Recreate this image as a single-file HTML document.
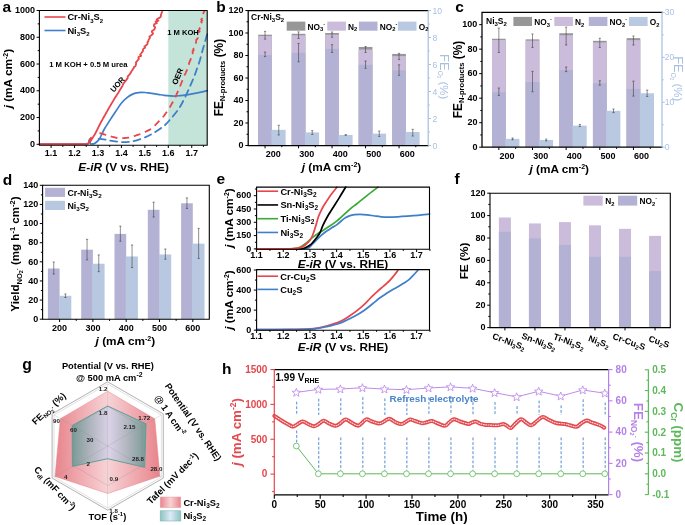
<!DOCTYPE html>
<html><head><meta charset="utf-8"><style>
html,body{margin:0;padding:0;background:#fff;}
svg{display:block;font-family:"Liberation Sans", sans-serif;filter:blur(0.35px);}
</style></head><body>
<svg width="685" height="525" viewBox="0 0 685 525" font-family='"Liberation Sans", sans-serif'>
<rect width="685" height="525" fill="#fff"/>
<rect x="168.3" y="10.5" width="38.9" height="134.7" fill="#c5e4d9" />
<path d="M39.4,144.1 C44.5,144.1 62.23,144.12 70,144.1 C77.77,144.08 82.95,144.12 86,144 C89.05,143.88 87.72,144.2 88.3,143.4 C88.88,142.6 89.17,139.17 89.5,139.2 C89.83,139.23 89.88,142.82 90.3,143.6 C90.72,144.38 91.38,143.88 92,143.9 C92.62,143.92 93.33,143.93 94,143.7 C94.67,143.47 95.07,143.33 96,142.5 C96.93,141.67 98.25,140.87 99.6,138.7 C100.95,136.53 102.4,132.55 104.1,129.5 C105.8,126.45 107.9,123.35 109.8,120.4 C111.7,117.45 113.58,114.65 115.5,111.8 C117.42,108.95 119.38,105.67 121.3,103.3 C123.22,100.93 125.1,99.13 127,97.6 C128.9,96.07 130.8,94.93 132.7,94.1 C134.6,93.27 136.35,92.87 138.4,92.6 C140.45,92.33 143.07,92.42 145,92.5 C146.93,92.58 147.85,92.8 150,93.1 C152.15,93.4 155.57,93.93 157.9,94.3 C160.23,94.67 161.98,95.03 164,95.3 C166.02,95.57 168,95.78 170,95.9 C172,96.02 173.53,96.12 176,96 C178.47,95.88 181.47,95.67 184.8,95.2 C188.13,94.73 192.27,93.95 196,93.2 C199.73,92.45 205.33,91.12 207.2,90.7" stroke="#3f7fca" stroke-width="1.7" fill="none" stroke-linejoin="round" stroke-linecap="round" />
<polyline points="39.4,144.2 40.62,144.2 41.85,144.2 43.07,144.2 44.3,144.2 45.52,144.2 46.74,144.2 47.97,144.2 49.19,144.2 50.42,144.2 51.64,144.2 52.86,144.2 54.09,144.2 55.31,144.2 56.54,144.2 57.76,144.2 58.98,144.2 60.21,144.2 61.43,144.2 62.66,144.2 63.88,144.2 65.1,144.2 66.33,144.2 67.55,144.2 68.78,144.2 70,144.2 71.23,144.19 72.46,144.18 73.69,144.18 74.92,144.17 76.15,144.16 77.38,144.15 78.62,144.15 79.85,144.14 81.08,144.13 82.31,144.12 83.54,144.12 84.77,144.11 86,144.1 88.2,143.6 88.75,142.3 89.3,141 89.87,139.93 90.43,138.87 91,137.8 90.73,139.13 90.47,140.47 90.2,141.8 90.85,140.65 91.5,139.5 92.2,138.42 92.9,137.34 93.6,136.26 94.3,135.18 95,134.1 95.56,132.98 96.12,131.86 96.68,130.74 97.24,129.62 97.8,128.5 98.38,127.34 98.96,126.18 99.54,125.02 100.12,123.86 100.7,122.7 101.36,121.52 102.02,120.34 102.68,119.16 103.34,117.98 104,116.8 104.61,115.71 105.22,114.62 105.83,113.53 106.44,112.44 107.06,111.36 107.67,110.27 108.28,109.18 108.89,108.09 109.5,107 110.19,105.85 110.88,104.7 111.56,103.55 112.25,102.4 112.94,101.25 113.62,100.1 114.31,98.95 115,97.8 115.7,96.72 116.4,95.64 117.1,94.56 117.8,93.48 118.5,92.4 119.18,91.22 119.87,90.03 120.51,88.92 121.48,87.62 122.07,86.55 122.71,85.3 123.14,84.18 123.77,83.02 124.74,81.98 125.62,80.83 126.4,79.91 127.12,78.88 127.81,77.7 127.62,76.66 128.46,75.44 129.66,74.48 130.07,73.59 130.99,72.36 131.25,71.52 132.2,70.46 132.73,69.21 133.65,68.42 133.75,67.28 135.39,66.14 135.87,64.66 136.19,63.89 135.91,62.48 136.84,61.46 137.68,60.29 138.9,58.89 138.32,57.79 139.07,56.59 141.21,55.85 140.24,54.5 141.27,53.26 141.95,52.3 143.03,51 142.86,49.84 143.33,48.83 145.13,47.67 144.37,46.48 145.57,45.69 147.04,44.48 147.68,43.58 147.42,42.27 148.15,41.36 148.55,40.22 149.23,38.76 149.99,37.94 149.35,36.58 150.75,35.77 152.59,34.22 153.03,33.39 151.86,31.97 151.97,31.04 153.95,29.88 154.82,28.48 155.17,27.17 153.85,25.98 154.11,24.36 156.97,23.04 155.48,21.86 158.47,20.7 156.33,20.17 157.15,19.03 159.43,17.87 160.87,16.48 160.92,14.67 161.36,13.88 161.73,12.2 162.86,11.35" stroke="#e8464b" stroke-width="1.8" fill="none" stroke-linejoin="round" />
<polyline points="99.4,133.2 100.53,133.47 101.67,133.73 102.8,134 103.93,134.27 105.07,134.53 106.2,134.8 107.28,135.18 108.36,135.56 109.44,135.94 110.52,136.32 111.6,136.7 112.6,136.92 113.6,137.15 114.6,137.38 115.6,137.6 116.6,137.82 117.6,138.05 118.6,138.28 119.6,138.5 120.64,138.4 121.68,138.3 122.72,138.2 123.76,138.1 124.8,138 125.84,137.9 126.88,137.8 127.92,137.7 128.96,137.6 130,137.5 130.99,137.17 131.98,136.84 132.98,136.51 133.97,136.18 134.96,135.85 135.95,135.52 136.95,135.18 137.94,134.85 138.93,134.52 139.92,134.19 140.92,133.86 141.91,133.53 142.9,133.2 143.81,132.73 144.72,132.26 145.63,131.79 146.54,131.32 147.45,130.85 148.36,130.38 149.27,129.91 150.18,129.44 151.09,128.97 152,128.5 152.7,127.76 153.4,127.03 154.1,126.29 154.8,125.56 155.5,124.82 156.2,124.09 156.9,123.35 157.6,122.62 158.3,121.88 159,121.15 159.7,120.41 160.4,119.68 161.1,118.94 161.8,118.21 162.5,117.47 163.2,116.74 163.9,116 164.51,115.1 165.12,114.2 165.73,113.3 166.34,112.4 166.95,111.5 167.56,110.6 168.17,109.7 168.78,108.8 169.39,107.9 170,107 170.53,106.06 171.07,105.11 171.6,104.17 172.13,103.22 172.67,102.28 173.2,101.33 173.73,100.39 174.27,99.44 174.8,98.5 175.2,97.58 175.6,96.65 176,95.73 176.4,94.81 176.8,93.88 177.2,92.96 177.6,92.04 178,91.12 178.4,90.19 178.8,89.27 179.2,88.35 179.6,87.42 180,86.5 180.4,85.5 180.8,84.5 181.2,83.5 181.6,82.5 182,81.5 182.4,80.5 182.8,79.5 183.2,78.5 183.6,77.5 184,76.5 184.41,75.57 184.78,74.64 185.36,73.71 185.78,72.79 185.97,71.86 186.58,70.93 186.98,70 187.42,69 187.45,68 188.09,67 188.58,66 188.74,65 188.99,64 189.03,63 189.65,62 189.88,61 190.47,60.03 190.73,59.06 190.93,58.09 190.88,57.12 191.58,56.15 191.86,55.18 191.72,54.21 192.71,53.24 192.77,52.27 192.5,51.3 193.75,50.26 193.26,49.21 193.84,48.17 194.67,47.12 194.91,46.08 195.23,45.03 195.73,43.99 195.87,42.94 196.05,41.9 196.15,40.84 196.28,39.79 197.47,38.73 197.82,37.68 197.81,36.62 198.39,35.57 198.11,34.51 198.25,33.46 198.72,32.4 199.73,31.42 198.61,30.44 199.59,29.45 199.38,28.47 200.5,27.49 200.01,26.51 200.2,25.53 200.54,24.55 201.02,23.56 201.68,22.58 201.12,21.6 202.36,20.59 201.25,19.57 201.85,18.56 201.8,17.54 202.12,16.53 203.77,15.51 203.97,14.5 203.3,13.33 203.77,12.17 204.72,11" stroke="#e8464b" stroke-width="1.8" fill="none" stroke-linejoin="round" stroke-dasharray="6.9 4.9" stroke-linecap="butt"/>
<path d="M98.6,138.8 C99.87,138.95 104.3,139.42 106.2,139.7 C108.1,139.98 108.15,140.18 110,140.5 C111.85,140.82 115.32,141.33 117.3,141.6 C119.28,141.87 119.45,142.12 121.9,142.1 C124.35,142.08 128.5,142.15 132,141.5 C135.5,140.85 139.57,139.45 142.9,138.2 C146.23,136.95 148.5,136.03 152,134 C155.5,131.97 160.73,128.58 163.9,126 C167.07,123.42 168.57,121.3 171,118.5 C173.43,115.7 176.25,112.53 178.5,109.2 C180.75,105.87 182.53,102.43 184.5,98.5 C186.47,94.57 188.72,89.18 190.3,85.6 C191.88,82.02 192.87,79.87 194,77 C195.13,74.13 196.1,71.23 197.1,68.4 C198.1,65.57 199.13,62.85 200,60 C200.87,57.15 201.6,53.88 202.3,51.3 C203,48.72 203.63,46.5 204.2,44.5 C204.77,42.5 205.2,41.02 205.7,39.3 C206.2,37.58 206.95,35.05 207.2,34.2" stroke="#3f7fca" stroke-width="1.8" fill="none" stroke-linejoin="round" stroke-linecap="round" stroke-dasharray="6.9 4.9" stroke-linecap="butt"/>
<path d="M39.4,10.5 L39.4,145.2 L207.2,145.2 L207.2,10.5 L39.4,10.5" stroke="#000" stroke-width="1.1" fill="none" stroke-linecap="square"/>
<line x1="39.4" y1="144.3" x2="36.6" y2="144.3" stroke="#000" stroke-width="1" />
<line x1="39.4" y1="117.54" x2="36.6" y2="117.54" stroke="#000" stroke-width="1" />
<line x1="39.4" y1="90.78" x2="36.6" y2="90.78" stroke="#000" stroke-width="1" />
<line x1="39.4" y1="64.02" x2="36.6" y2="64.02" stroke="#000" stroke-width="1" />
<line x1="39.4" y1="37.26" x2="36.6" y2="37.26" stroke="#000" stroke-width="1" />
<line x1="39.4" y1="10.5" x2="36.6" y2="10.5" stroke="#000" stroke-width="1" />
<line x1="39.4" y1="130.92" x2="37.7" y2="130.92" stroke="#000" stroke-width="1" />
<line x1="39.4" y1="104.16" x2="37.7" y2="104.16" stroke="#000" stroke-width="1" />
<line x1="39.4" y1="77.4" x2="37.7" y2="77.4" stroke="#000" stroke-width="1" />
<line x1="39.4" y1="50.64" x2="37.7" y2="50.64" stroke="#000" stroke-width="1" />
<line x1="39.4" y1="23.88" x2="37.7" y2="23.88" stroke="#000" stroke-width="1" />
<line x1="51.1" y1="145.2" x2="51.1" y2="148" stroke="#000" stroke-width="1" />
<line x1="74.54" y1="145.2" x2="74.54" y2="148" stroke="#000" stroke-width="1" />
<line x1="97.98" y1="145.2" x2="97.98" y2="148" stroke="#000" stroke-width="1" />
<line x1="121.42" y1="145.2" x2="121.42" y2="148" stroke="#000" stroke-width="1" />
<line x1="144.86" y1="145.2" x2="144.86" y2="148" stroke="#000" stroke-width="1" />
<line x1="168.3" y1="145.2" x2="168.3" y2="148" stroke="#000" stroke-width="1" />
<line x1="191.74" y1="145.2" x2="191.74" y2="148" stroke="#000" stroke-width="1" />
<line x1="62.82" y1="145.2" x2="62.82" y2="146.9" stroke="#000" stroke-width="1" />
<line x1="86.26" y1="145.2" x2="86.26" y2="146.9" stroke="#000" stroke-width="1" />
<line x1="109.7" y1="145.2" x2="109.7" y2="146.9" stroke="#000" stroke-width="1" />
<line x1="133.14" y1="145.2" x2="133.14" y2="146.9" stroke="#000" stroke-width="1" />
<line x1="156.58" y1="145.2" x2="156.58" y2="146.9" stroke="#000" stroke-width="1" />
<line x1="180.02" y1="145.2" x2="180.02" y2="146.9" stroke="#000" stroke-width="1" />
<line x1="203.46" y1="145.2" x2="203.46" y2="146.9" stroke="#000" stroke-width="1" />
<text x="35" y="147" font-size="9" text-anchor="end" fill="#000" font-weight="bold" >0</text>
<text x="35" y="120.24" font-size="9" text-anchor="end" fill="#000" font-weight="bold" >200</text>
<text x="35" y="93.48" font-size="9" text-anchor="end" fill="#000" font-weight="bold" >400</text>
<text x="35" y="66.72" font-size="9" text-anchor="end" fill="#000" font-weight="bold" >600</text>
<text x="35" y="39.96" font-size="9" text-anchor="end" fill="#000" font-weight="bold" >800</text>
<text x="35" y="13.2" font-size="9" text-anchor="end" fill="#000" font-weight="bold" >1000</text>
<text x="51.1" y="156" font-size="9" text-anchor="middle" fill="#000" font-weight="bold" >1.1</text>
<text x="74.54" y="156" font-size="9" text-anchor="middle" fill="#000" font-weight="bold" >1.2</text>
<text x="97.98" y="156" font-size="9" text-anchor="middle" fill="#000" font-weight="bold" >1.3</text>
<text x="121.42" y="156" font-size="9" text-anchor="middle" fill="#000" font-weight="bold" >1.4</text>
<text x="144.86" y="156" font-size="9" text-anchor="middle" fill="#000" font-weight="bold" >1.5</text>
<text x="168.3" y="156" font-size="9" text-anchor="middle" fill="#000" font-weight="bold" >1.6</text>
<text x="191.74" y="156" font-size="9" text-anchor="middle" fill="#000" font-weight="bold" >1.7</text>
<text x="123.6" y="170.8" font-size="11.8" text-anchor="middle" fill="#000" font-weight="bold" ><tspan font-style="italic">E</tspan>-<tspan font-style="italic">iR</tspan> (V vs. RHE)</text>
<text x="11.6" y="78.6" font-size="11.8" text-anchor="middle" fill="#000" font-weight="bold" transform="rotate(-90 11.6 78.6)" ><tspan font-style="italic">j</tspan> (mA cm<tspan font-size="7" dy="-4">-2</tspan><tspan dy="4" font-size="11.8">)</tspan></text>
<text x="2.6" y="12" font-size="15.5" text-anchor="start" fill="#000" font-weight="bold" >a</text>
<line x1="44.5" y1="17" x2="65.5" y2="17" stroke="#e8464b" stroke-width="1.6" />
<line x1="44.5" y1="30.5" x2="65.5" y2="30.5" stroke="#3f7fca" stroke-width="1.6" />
<text x="67.4" y="20.4" font-size="9.3" text-anchor="start" fill="#000" font-weight="bold" >Cr-Ni<tspan font-size="6" dy="2.2">3</tspan><tspan dy="-2.2">S</tspan><tspan font-size="6" dy="2.2">2</tspan></text>
<text x="67.4" y="33.9" font-size="9.3" text-anchor="start" fill="#000" font-weight="bold" >Ni<tspan font-size="6" dy="2.2">3</tspan><tspan dy="-2.2">S</tspan><tspan font-size="6" dy="2.2">2</tspan></text>
<text x="49.2" y="67.1" font-size="7.7" text-anchor="start" fill="#000" font-weight="bold" >1 M KOH + 0.5 M urea</text>
<text x="167.2" y="34.7" font-size="7.6" text-anchor="start" fill="#000" font-weight="bold" >1 M KOH</text>
<text x="119.5" y="86.3" font-size="7.8" text-anchor="middle" fill="#000" font-weight="bold" transform="rotate(-48 119.5 86.3)" >UOR</text>
<text x="180.2" y="77.4" font-size="7.9" text-anchor="middle" fill="#000" font-weight="bold" transform="rotate(-67 180.2 77.4)" >OER</text>
<rect x="258.2" y="34.69" width="13.7" height="110.81" fill="#979797" />
<rect x="258.2" y="36.04" width="13.7" height="109.46" fill="#cabcda" />
<rect x="258.2" y="54.94" width="13.7" height="90.56" fill="#b3b2d4" />
<rect x="271.4" y="129.84" width="14.2" height="15.66" fill="#b8c9e1" />
<line x1="265.05" y1="31.42" x2="265.05" y2="39.08" stroke="#333" stroke-width="0.55" />
<line x1="263.95" y1="31.42" x2="266.15" y2="31.42" stroke="#333" stroke-width="0.55" />
<line x1="263.95" y1="39.08" x2="266.15" y2="39.08" stroke="#333" stroke-width="0.55" />
<line x1="265.05" y1="52.12" x2="265.05" y2="56.62" stroke="#333" stroke-width="0.55" />
<line x1="263.95" y1="52.12" x2="266.15" y2="52.12" stroke="#333" stroke-width="0.55" />
<line x1="263.95" y1="56.62" x2="266.15" y2="56.62" stroke="#333" stroke-width="0.55" />
<line x1="278.75" y1="125.25" x2="278.75" y2="134.97" stroke="#333" stroke-width="0.55" />
<line x1="277.65" y1="125.25" x2="279.85" y2="125.25" stroke="#333" stroke-width="0.55" />
<line x1="277.65" y1="134.97" x2="279.85" y2="134.97" stroke="#333" stroke-width="0.55" />
<rect x="291.7" y="33.79" width="13.7" height="111.71" fill="#979797" />
<rect x="291.7" y="35.25" width="13.7" height="110.25" fill="#cabcda" />
<rect x="291.7" y="52.8" width="13.7" height="92.7" fill="#b3b2d4" />
<rect x="304.9" y="132.41" width="14.2" height="13.09" fill="#b8c9e1" />
<line x1="298.55" y1="31.88" x2="298.55" y2="38.4" stroke="#333" stroke-width="0.55" />
<line x1="297.45" y1="31.88" x2="299.65" y2="31.88" stroke="#333" stroke-width="0.55" />
<line x1="297.45" y1="38.4" x2="299.65" y2="38.4" stroke="#333" stroke-width="0.55" />
<line x1="298.55" y1="43.46" x2="298.55" y2="61.8" stroke="#333" stroke-width="0.55" />
<line x1="297.45" y1="43.46" x2="299.65" y2="43.46" stroke="#333" stroke-width="0.55" />
<line x1="297.45" y1="61.8" x2="299.65" y2="61.8" stroke="#333" stroke-width="0.55" />
<line x1="312.25" y1="130.65" x2="312.25" y2="134.43" stroke="#333" stroke-width="0.55" />
<line x1="311.15" y1="130.65" x2="313.35" y2="130.65" stroke="#333" stroke-width="0.55" />
<line x1="311.15" y1="134.43" x2="313.35" y2="134.43" stroke="#333" stroke-width="0.55" />
<rect x="325.2" y="33" width="13.7" height="112.5" fill="#979797" />
<rect x="325.2" y="34.69" width="13.7" height="110.81" fill="#cabcda" />
<rect x="325.2" y="48.97" width="13.7" height="96.53" fill="#b3b2d4" />
<rect x="338.4" y="134.97" width="14.2" height="10.53" fill="#b8c9e1" />
<line x1="332.05" y1="31.99" x2="332.05" y2="37.28" stroke="#333" stroke-width="0.55" />
<line x1="330.95" y1="31.99" x2="333.15" y2="31.99" stroke="#333" stroke-width="0.55" />
<line x1="330.95" y1="37.28" x2="333.15" y2="37.28" stroke="#333" stroke-width="0.55" />
<line x1="332.05" y1="44.7" x2="332.05" y2="52.46" stroke="#333" stroke-width="0.55" />
<line x1="330.95" y1="44.7" x2="333.15" y2="44.7" stroke="#333" stroke-width="0.55" />
<line x1="330.95" y1="52.46" x2="333.15" y2="52.46" stroke="#333" stroke-width="0.55" />
<line x1="345.75" y1="134.7" x2="345.75" y2="135.24" stroke="#333" stroke-width="0.55" />
<line x1="344.65" y1="134.7" x2="346.85" y2="134.7" stroke="#333" stroke-width="0.55" />
<line x1="344.65" y1="135.24" x2="346.85" y2="135.24" stroke="#333" stroke-width="0.55" />
<rect x="358.7" y="46.95" width="13.7" height="98.55" fill="#979797" />
<rect x="358.7" y="49.54" width="13.7" height="95.96" fill="#cabcda" />
<rect x="358.7" y="64.84" width="13.7" height="80.66" fill="#b3b2d4" />
<rect x="371.9" y="133.62" width="14.2" height="11.88" fill="#b8c9e1" />
<line x1="365.55" y1="46.5" x2="365.55" y2="52.46" stroke="#333" stroke-width="0.55" />
<line x1="364.45" y1="46.5" x2="366.65" y2="46.5" stroke="#333" stroke-width="0.55" />
<line x1="364.45" y1="52.46" x2="366.65" y2="52.46" stroke="#333" stroke-width="0.55" />
<line x1="365.55" y1="61.01" x2="365.55" y2="68.33" stroke="#333" stroke-width="0.55" />
<line x1="364.45" y1="61.01" x2="366.65" y2="61.01" stroke="#333" stroke-width="0.55" />
<line x1="364.45" y1="68.33" x2="366.65" y2="68.33" stroke="#333" stroke-width="0.55" />
<line x1="379.25" y1="131.06" x2="379.25" y2="136.46" stroke="#333" stroke-width="0.55" />
<line x1="378.15" y1="131.06" x2="380.35" y2="131.06" stroke="#333" stroke-width="0.55" />
<line x1="378.15" y1="136.46" x2="380.35" y2="136.46" stroke="#333" stroke-width="0.55" />
<rect x="392.2" y="53.92" width="13.7" height="91.58" fill="#979797" />
<rect x="392.2" y="56.06" width="13.7" height="89.44" fill="#cabcda" />
<rect x="392.2" y="70.35" width="13.7" height="75.15" fill="#b3b2d4" />
<rect x="405.4" y="132" width="14.2" height="13.5" fill="#b8c9e1" />
<line x1="399.05" y1="53.36" x2="399.05" y2="59.55" stroke="#333" stroke-width="0.55" />
<line x1="397.95" y1="53.36" x2="400.15" y2="53.36" stroke="#333" stroke-width="0.55" />
<line x1="397.95" y1="59.55" x2="400.15" y2="59.55" stroke="#333" stroke-width="0.55" />
<line x1="399.05" y1="64.84" x2="399.05" y2="75.3" stroke="#333" stroke-width="0.55" />
<line x1="397.95" y1="64.84" x2="400.15" y2="64.84" stroke="#333" stroke-width="0.55" />
<line x1="397.95" y1="75.3" x2="400.15" y2="75.3" stroke="#333" stroke-width="0.55" />
<line x1="412.75" y1="129.3" x2="412.75" y2="136.05" stroke="#333" stroke-width="0.55" />
<line x1="411.65" y1="129.3" x2="413.85" y2="129.3" stroke="#333" stroke-width="0.55" />
<line x1="411.65" y1="136.05" x2="413.85" y2="136.05" stroke="#333" stroke-width="0.55" />
<path d="M428.2,10.5 L248.2,10.5 L248.2,145.5 L428.2,145.5" stroke="#000" stroke-width="1.25" fill="none" stroke-linecap="square"/>
<line x1="428.2" y1="10.5" x2="428.2" y2="145.5" stroke="#a9c0e2" stroke-width="1.25" />
<line x1="248.2" y1="145.5" x2="245.4" y2="145.5" stroke="#000" stroke-width="1" />
<line x1="248.2" y1="123" x2="245.4" y2="123" stroke="#000" stroke-width="1" />
<line x1="248.2" y1="100.5" x2="245.4" y2="100.5" stroke="#000" stroke-width="1" />
<line x1="248.2" y1="78" x2="245.4" y2="78" stroke="#000" stroke-width="1" />
<line x1="248.2" y1="55.5" x2="245.4" y2="55.5" stroke="#000" stroke-width="1" />
<line x1="248.2" y1="33" x2="245.4" y2="33" stroke="#000" stroke-width="1" />
<line x1="248.2" y1="10.5" x2="245.4" y2="10.5" stroke="#000" stroke-width="1" />
<line x1="248.2" y1="134.25" x2="246.5" y2="134.25" stroke="#000" stroke-width="1" />
<line x1="248.2" y1="111.75" x2="246.5" y2="111.75" stroke="#000" stroke-width="1" />
<line x1="248.2" y1="89.25" x2="246.5" y2="89.25" stroke="#000" stroke-width="1" />
<line x1="248.2" y1="66.75" x2="246.5" y2="66.75" stroke="#000" stroke-width="1" />
<line x1="248.2" y1="44.25" x2="246.5" y2="44.25" stroke="#000" stroke-width="1" />
<line x1="248.2" y1="21.75" x2="246.5" y2="21.75" stroke="#000" stroke-width="1" />
<line x1="428.2" y1="145.5" x2="431" y2="145.5" stroke="#a9c0e2" stroke-width="1" />
<line x1="428.2" y1="118.5" x2="431" y2="118.5" stroke="#a9c0e2" stroke-width="1" />
<line x1="428.2" y1="91.5" x2="431" y2="91.5" stroke="#a9c0e2" stroke-width="1" />
<line x1="428.2" y1="64.5" x2="431" y2="64.5" stroke="#a9c0e2" stroke-width="1" />
<line x1="428.2" y1="37.5" x2="431" y2="37.5" stroke="#a9c0e2" stroke-width="1" />
<line x1="428.2" y1="10.5" x2="431" y2="10.5" stroke="#a9c0e2" stroke-width="1" />
<line x1="428.2" y1="132" x2="429.9" y2="132" stroke="#a9c0e2" stroke-width="1" />
<line x1="428.2" y1="105" x2="429.9" y2="105" stroke="#a9c0e2" stroke-width="1" />
<line x1="428.2" y1="78" x2="429.9" y2="78" stroke="#a9c0e2" stroke-width="1" />
<line x1="428.2" y1="51" x2="429.9" y2="51" stroke="#a9c0e2" stroke-width="1" />
<line x1="428.2" y1="24" x2="429.9" y2="24" stroke="#a9c0e2" stroke-width="1" />
<line x1="265.05" y1="145.5" x2="265.05" y2="148.3" stroke="#000" stroke-width="1" />
<line x1="281.8" y1="145.5" x2="281.8" y2="147.2" stroke="#000" stroke-width="1" />
<line x1="298.55" y1="145.5" x2="298.55" y2="148.3" stroke="#000" stroke-width="1" />
<line x1="315.3" y1="145.5" x2="315.3" y2="147.2" stroke="#000" stroke-width="1" />
<line x1="332.05" y1="145.5" x2="332.05" y2="148.3" stroke="#000" stroke-width="1" />
<line x1="348.8" y1="145.5" x2="348.8" y2="147.2" stroke="#000" stroke-width="1" />
<line x1="365.55" y1="145.5" x2="365.55" y2="148.3" stroke="#000" stroke-width="1" />
<line x1="382.3" y1="145.5" x2="382.3" y2="147.2" stroke="#000" stroke-width="1" />
<line x1="399.05" y1="145.5" x2="399.05" y2="148.3" stroke="#000" stroke-width="1" />
<line x1="415.8" y1="145.5" x2="415.8" y2="147.2" stroke="#000" stroke-width="1" />
<text x="243.6" y="148.2" font-size="9" text-anchor="end" fill="#000" font-weight="bold" >0</text>
<text x="243.6" y="125.7" font-size="9" text-anchor="end" fill="#000" font-weight="bold" >20</text>
<text x="243.6" y="103.2" font-size="9" text-anchor="end" fill="#000" font-weight="bold" >40</text>
<text x="243.6" y="80.7" font-size="9" text-anchor="end" fill="#000" font-weight="bold" >60</text>
<text x="243.6" y="58.2" font-size="9" text-anchor="end" fill="#000" font-weight="bold" >80</text>
<text x="243.6" y="35.7" font-size="9" text-anchor="end" fill="#000" font-weight="bold" >100</text>
<text x="243.6" y="13.2" font-size="9" text-anchor="end" fill="#000" font-weight="bold" >120</text>
<text x="432.6" y="148.5" font-size="8.6" text-anchor="start" fill="#a9c0e2" font-weight="normal" >0</text>
<text x="432.6" y="121.5" font-size="8.6" text-anchor="start" fill="#a9c0e2" font-weight="normal" >2</text>
<text x="432.6" y="94.5" font-size="8.6" text-anchor="start" fill="#a9c0e2" font-weight="normal" >4</text>
<text x="432.6" y="67.5" font-size="8.6" text-anchor="start" fill="#a9c0e2" font-weight="normal" >6</text>
<text x="432.6" y="40.5" font-size="8.6" text-anchor="start" fill="#a9c0e2" font-weight="normal" >8</text>
<text x="432.6" y="13.5" font-size="8.6" text-anchor="start" fill="#a9c0e2" font-weight="normal" >10</text>
<text x="273.2" y="156.9" font-size="9" text-anchor="middle" fill="#000" font-weight="bold" >200</text>
<text x="306.7" y="156.9" font-size="9" text-anchor="middle" fill="#000" font-weight="bold" >300</text>
<text x="340.2" y="156.9" font-size="9" text-anchor="middle" fill="#000" font-weight="bold" >400</text>
<text x="373.7" y="156.9" font-size="9" text-anchor="middle" fill="#000" font-weight="bold" >500</text>
<text x="407.2" y="156.9" font-size="9" text-anchor="middle" fill="#000" font-weight="bold" >600</text>
<text x="331.5" y="171.3" font-size="11.8" text-anchor="middle" fill="#000" font-weight="bold" ><tspan font-style="italic">j</tspan> (mA cm<tspan font-size="7" dy="-4">-2</tspan><tspan dy="4" font-size="11.8">)</tspan></text>
<text x="222.8" y="77.6" font-size="11.9" text-anchor="middle" fill="#000" font-weight="bold" transform="rotate(-90 222.8 77.6)" >FE<tspan font-size="7.6" dy="2.6">N-products</tspan><tspan dy="-2.6" font-size="11.9"> (%)</tspan></text>
<text x="440.3" y="76.7" font-size="13" text-anchor="middle" fill="#a9c0e2" font-weight="normal" transform="rotate(90 440.3 76.7)" >FE<tspan font-size="6.5" dy="2.5">O</tspan><tspan font-size="4.5" dy="1.2">2</tspan><tspan dy="-3.7" font-size="11.5"> (%)</tspan></text>
<text x="216.3" y="12.2" font-size="15.5" text-anchor="start" fill="#000" font-weight="bold" >b</text>
<text x="251" y="20.3" font-size="8.5" text-anchor="start" fill="#000" font-weight="bold" >Cr-Ni<tspan font-size="6" dy="2">3</tspan><tspan dy="-2">S</tspan><tspan font-size="6" dy="2">2</tspan></text>
<rect x="286.7" y="21.6" width="18.6" height="9.1" fill="#979797" />
<text x="307.5" y="29.6" font-size="8.3" text-anchor="start" fill="#000" font-weight="bold" >NO<tspan font-size="5.8" dy="1.8">3</tspan><tspan dy="-5.5" font-size="5.5">-</tspan></text>
<rect x="327.3" y="21.6" width="18.6" height="9.1" fill="#cabcda" />
<text x="348.1" y="29.6" font-size="8.3" text-anchor="start" fill="#000" font-weight="bold" >N<tspan font-size="5.8" dy="1.8">2</tspan></text>
<rect x="358.9" y="21.6" width="18.6" height="9.1" fill="#b3b2d4" />
<text x="379.7" y="29.6" font-size="8.3" text-anchor="start" fill="#000" font-weight="bold" >NO<tspan font-size="5.8" dy="1.8">2</tspan><tspan dy="-5.5" font-size="5.5">-</tspan></text>
<rect x="397.9" y="21.6" width="18.6" height="9.1" fill="#b8c9e1" />
<text x="418.7" y="29.6" font-size="8.3" text-anchor="start" fill="#000" font-weight="bold" >O<tspan font-size="5.8" dy="1.8">2</tspan></text>
<rect x="492" y="38.75" width="13.7" height="108.45" fill="#979797" />
<rect x="492" y="39.97" width="13.7" height="107.23" fill="#cabcda" />
<rect x="492" y="92.3" width="13.7" height="54.9" fill="#b3b2d4" />
<rect x="505.2" y="138.89" width="14.2" height="8.31" fill="#b8c9e1" />
<line x1="498.85" y1="28.09" x2="498.85" y2="52.47" stroke="#333" stroke-width="0.55" />
<line x1="497.75" y1="28.09" x2="499.95" y2="28.09" stroke="#333" stroke-width="0.55" />
<line x1="497.75" y1="52.47" x2="499.95" y2="52.47" stroke="#333" stroke-width="0.55" />
<line x1="498.85" y1="88.01" x2="498.85" y2="95.49" stroke="#333" stroke-width="0.55" />
<line x1="497.75" y1="88.01" x2="499.95" y2="88.01" stroke="#333" stroke-width="0.55" />
<line x1="497.75" y1="95.49" x2="499.95" y2="95.49" stroke="#333" stroke-width="0.55" />
<line x1="512.55" y1="137.99" x2="512.55" y2="139.79" stroke="#333" stroke-width="0.55" />
<line x1="511.45" y1="137.99" x2="513.65" y2="137.99" stroke="#333" stroke-width="0.55" />
<line x1="511.45" y1="139.79" x2="513.65" y2="139.79" stroke="#333" stroke-width="0.55" />
<rect x="525.65" y="39.36" width="13.7" height="107.84" fill="#979797" />
<rect x="525.65" y="40.59" width="13.7" height="106.61" fill="#cabcda" />
<rect x="525.65" y="82.01" width="13.7" height="65.19" fill="#b3b2d4" />
<rect x="538.85" y="140.01" width="14.2" height="7.19" fill="#b8c9e1" />
<line x1="532.5" y1="33.97" x2="532.5" y2="47.45" stroke="#333" stroke-width="0.55" />
<line x1="531.4" y1="33.97" x2="533.6" y2="33.97" stroke="#333" stroke-width="0.55" />
<line x1="531.4" y1="47.45" x2="533.6" y2="47.45" stroke="#333" stroke-width="0.55" />
<line x1="532.5" y1="71.34" x2="532.5" y2="91.81" stroke="#333" stroke-width="0.55" />
<line x1="531.4" y1="71.34" x2="533.6" y2="71.34" stroke="#333" stroke-width="0.55" />
<line x1="531.4" y1="91.81" x2="533.6" y2="91.81" stroke="#333" stroke-width="0.55" />
<line x1="546.2" y1="139.11" x2="546.2" y2="140.91" stroke="#333" stroke-width="0.55" />
<line x1="545.1" y1="139.11" x2="547.3" y2="139.11" stroke="#333" stroke-width="0.55" />
<line x1="545.1" y1="140.91" x2="547.3" y2="140.91" stroke="#333" stroke-width="0.55" />
<rect x="559.3" y="33.23" width="13.7" height="113.97" fill="#979797" />
<rect x="559.3" y="35.19" width="13.7" height="112.01" fill="#cabcda" />
<rect x="559.3" y="70" width="13.7" height="77.2" fill="#b3b2d4" />
<rect x="572.5" y="125.63" width="14.2" height="21.57" fill="#b8c9e1" />
<line x1="566.15" y1="27.11" x2="566.15" y2="45" stroke="#333" stroke-width="0.55" />
<line x1="565.05" y1="27.11" x2="567.25" y2="27.11" stroke="#333" stroke-width="0.55" />
<line x1="565.05" y1="45" x2="567.25" y2="45" stroke="#333" stroke-width="0.55" />
<line x1="566.15" y1="67.06" x2="566.15" y2="71.59" stroke="#333" stroke-width="0.55" />
<line x1="565.05" y1="67.06" x2="567.25" y2="67.06" stroke="#333" stroke-width="0.55" />
<line x1="565.05" y1="71.59" x2="567.25" y2="71.59" stroke="#333" stroke-width="0.55" />
<line x1="579.85" y1="124.51" x2="579.85" y2="126.53" stroke="#333" stroke-width="0.55" />
<line x1="578.75" y1="124.51" x2="580.95" y2="124.51" stroke="#333" stroke-width="0.55" />
<line x1="578.75" y1="126.53" x2="580.95" y2="126.53" stroke="#333" stroke-width="0.55" />
<rect x="592.95" y="40.83" width="13.7" height="106.37" fill="#979797" />
<rect x="592.95" y="42.42" width="13.7" height="104.78" fill="#cabcda" />
<rect x="592.95" y="83.11" width="13.7" height="64.09" fill="#b3b2d4" />
<rect x="606.15" y="110.8" width="14.2" height="36.4" fill="#b8c9e1" />
<line x1="599.8" y1="38.26" x2="599.8" y2="47.45" stroke="#333" stroke-width="0.55" />
<line x1="598.7" y1="38.26" x2="600.9" y2="38.26" stroke="#333" stroke-width="0.55" />
<line x1="598.7" y1="47.45" x2="600.9" y2="47.45" stroke="#333" stroke-width="0.55" />
<line x1="599.8" y1="80.78" x2="599.8" y2="85.19" stroke="#333" stroke-width="0.55" />
<line x1="598.7" y1="80.78" x2="600.9" y2="80.78" stroke="#333" stroke-width="0.55" />
<line x1="598.7" y1="85.19" x2="600.9" y2="85.19" stroke="#333" stroke-width="0.55" />
<line x1="613.5" y1="109.01" x2="613.5" y2="112.6" stroke="#333" stroke-width="0.55" />
<line x1="612.4" y1="109.01" x2="614.6" y2="109.01" stroke="#333" stroke-width="0.55" />
<line x1="612.4" y1="112.6" x2="614.6" y2="112.6" stroke="#333" stroke-width="0.55" />
<rect x="626.6" y="38.13" width="13.7" height="109.07" fill="#979797" />
<rect x="626.6" y="40.1" width="13.7" height="107.1" fill="#cabcda" />
<rect x="626.6" y="88.99" width="13.7" height="58.21" fill="#b3b2d4" />
<rect x="639.8" y="93.28" width="14.2" height="53.92" fill="#b8c9e1" />
<line x1="633.45" y1="36.05" x2="633.45" y2="45" stroke="#333" stroke-width="0.55" />
<line x1="632.35" y1="36.05" x2="634.55" y2="36.05" stroke="#333" stroke-width="0.55" />
<line x1="632.35" y1="45" x2="634.55" y2="45" stroke="#333" stroke-width="0.55" />
<line x1="633.45" y1="81.15" x2="633.45" y2="96.1" stroke="#333" stroke-width="0.55" />
<line x1="632.35" y1="81.15" x2="634.55" y2="81.15" stroke="#333" stroke-width="0.55" />
<line x1="632.35" y1="96.1" x2="634.55" y2="96.1" stroke="#333" stroke-width="0.55" />
<line x1="647.15" y1="90.13" x2="647.15" y2="96.43" stroke="#333" stroke-width="0.55" />
<line x1="646.05" y1="90.13" x2="648.25" y2="90.13" stroke="#333" stroke-width="0.55" />
<line x1="646.05" y1="96.43" x2="648.25" y2="96.43" stroke="#333" stroke-width="0.55" />
<path d="M662,12.4 L482,12.4 L482,147.2 L662,147.2" stroke="#000" stroke-width="1.25" fill="none" stroke-linecap="square"/>
<line x1="662" y1="12.4" x2="662" y2="147.2" stroke="#a9c0e2" stroke-width="1.25" />
<line x1="482" y1="147.2" x2="479.2" y2="147.2" stroke="#000" stroke-width="1" />
<line x1="482" y1="122.69" x2="479.2" y2="122.69" stroke="#000" stroke-width="1" />
<line x1="482" y1="98.18" x2="479.2" y2="98.18" stroke="#000" stroke-width="1" />
<line x1="482" y1="73.67" x2="479.2" y2="73.67" stroke="#000" stroke-width="1" />
<line x1="482" y1="49.16" x2="479.2" y2="49.16" stroke="#000" stroke-width="1" />
<line x1="482" y1="24.65" x2="479.2" y2="24.65" stroke="#000" stroke-width="1" />
<line x1="482" y1="134.95" x2="480.3" y2="134.95" stroke="#000" stroke-width="1" />
<line x1="482" y1="110.44" x2="480.3" y2="110.44" stroke="#000" stroke-width="1" />
<line x1="482" y1="85.93" x2="480.3" y2="85.93" stroke="#000" stroke-width="1" />
<line x1="482" y1="61.42" x2="480.3" y2="61.42" stroke="#000" stroke-width="1" />
<line x1="482" y1="36.91" x2="480.3" y2="36.91" stroke="#000" stroke-width="1" />
<line x1="662" y1="147.2" x2="664.8" y2="147.2" stroke="#a9c0e2" stroke-width="1" />
<line x1="662" y1="102.27" x2="664.8" y2="102.27" stroke="#a9c0e2" stroke-width="1" />
<line x1="662" y1="57.33" x2="664.8" y2="57.33" stroke="#a9c0e2" stroke-width="1" />
<line x1="662" y1="12.4" x2="664.8" y2="12.4" stroke="#a9c0e2" stroke-width="1" />
<line x1="662" y1="124.73" x2="663.7" y2="124.73" stroke="#a9c0e2" stroke-width="1" />
<line x1="662" y1="79.8" x2="663.7" y2="79.8" stroke="#a9c0e2" stroke-width="1" />
<line x1="662" y1="34.87" x2="663.7" y2="34.87" stroke="#a9c0e2" stroke-width="1" />
<line x1="498.85" y1="147.2" x2="498.85" y2="150" stroke="#000" stroke-width="1" />
<line x1="515.67" y1="147.2" x2="515.67" y2="148.9" stroke="#000" stroke-width="1" />
<line x1="532.5" y1="147.2" x2="532.5" y2="150" stroke="#000" stroke-width="1" />
<line x1="549.33" y1="147.2" x2="549.33" y2="148.9" stroke="#000" stroke-width="1" />
<line x1="566.15" y1="147.2" x2="566.15" y2="150" stroke="#000" stroke-width="1" />
<line x1="582.97" y1="147.2" x2="582.97" y2="148.9" stroke="#000" stroke-width="1" />
<line x1="599.8" y1="147.2" x2="599.8" y2="150" stroke="#000" stroke-width="1" />
<line x1="616.62" y1="147.2" x2="616.62" y2="148.9" stroke="#000" stroke-width="1" />
<line x1="633.45" y1="147.2" x2="633.45" y2="150" stroke="#000" stroke-width="1" />
<line x1="650.27" y1="147.2" x2="650.27" y2="148.9" stroke="#000" stroke-width="1" />
<text x="477.4" y="149.9" font-size="9" text-anchor="end" fill="#000" font-weight="bold" >0</text>
<text x="477.4" y="125.39" font-size="9" text-anchor="end" fill="#000" font-weight="bold" >20</text>
<text x="477.4" y="100.88" font-size="9" text-anchor="end" fill="#000" font-weight="bold" >40</text>
<text x="477.4" y="76.37" font-size="9" text-anchor="end" fill="#000" font-weight="bold" >60</text>
<text x="477.4" y="51.86" font-size="9" text-anchor="end" fill="#000" font-weight="bold" >80</text>
<text x="477.4" y="27.35" font-size="9" text-anchor="end" fill="#000" font-weight="bold" >100</text>
<text x="664.7" y="150.2" font-size="8.6" text-anchor="start" fill="#a9c0e2" font-weight="normal" >0</text>
<text x="664.7" y="105.27" font-size="8.6" text-anchor="start" fill="#a9c0e2" font-weight="normal" >10</text>
<text x="664.7" y="60.33" font-size="8.6" text-anchor="start" fill="#a9c0e2" font-weight="normal" >20</text>
<text x="664.7" y="15.4" font-size="8.6" text-anchor="start" fill="#a9c0e2" font-weight="normal" >30</text>
<text x="507" y="158.7" font-size="9" text-anchor="middle" fill="#000" font-weight="bold" >200</text>
<text x="540.65" y="158.7" font-size="9" text-anchor="middle" fill="#000" font-weight="bold" >300</text>
<text x="574.3" y="158.7" font-size="9" text-anchor="middle" fill="#000" font-weight="bold" >400</text>
<text x="607.95" y="158.7" font-size="9" text-anchor="middle" fill="#000" font-weight="bold" >500</text>
<text x="641.6" y="158.7" font-size="9" text-anchor="middle" fill="#000" font-weight="bold" >600</text>
<text x="559.2" y="172.5" font-size="11.8" text-anchor="middle" fill="#000" font-weight="bold" ><tspan font-style="italic">j</tspan> (mA cm<tspan font-size="7" dy="-4">-2</tspan><tspan dy="4" font-size="11.8">)</tspan></text>
<text x="461.6" y="79.5" font-size="11.9" text-anchor="middle" fill="#000" font-weight="bold" transform="rotate(-90 461.6 79.5)" >FE<tspan font-size="7.6" dy="2.6">N-products</tspan><tspan dy="-2.6" font-size="11.9"> (%)</tspan></text>
<text x="673.8" y="78.8" font-size="13" text-anchor="middle" fill="#a9c0e2" font-weight="normal" transform="rotate(90 673.8 78.8)" >FE<tspan font-size="6.5" dy="2.5">O</tspan><tspan font-size="4.5" dy="1.2">2</tspan><tspan dy="-3.7" font-size="11.5"> (%)</tspan></text>
<text x="455.2" y="12.2" font-size="15.5" text-anchor="start" fill="#000" font-weight="bold" >c</text>
<text x="486" y="24.3" font-size="8.5" text-anchor="start" fill="#000" font-weight="bold" >Ni<tspan font-size="6" dy="2">3</tspan><tspan dy="-2">S</tspan><tspan font-size="6" dy="2">2</tspan></text>
<rect x="513.4" y="16.9" width="18.6" height="9.1" fill="#979797" />
<text x="534.2" y="24.9" font-size="8.3" text-anchor="start" fill="#000" font-weight="bold" >NO<tspan font-size="5.8" dy="1.8">3</tspan><tspan dy="-5.5" font-size="5.5">-</tspan></text>
<rect x="554.3" y="16.9" width="18.6" height="9.1" fill="#cabcda" />
<text x="575.1" y="24.9" font-size="8.3" text-anchor="start" fill="#000" font-weight="bold" >N<tspan font-size="5.8" dy="1.8">2</tspan></text>
<rect x="588.8" y="16.9" width="18.6" height="9.1" fill="#b3b2d4" />
<text x="609.6" y="24.9" font-size="8.3" text-anchor="start" fill="#000" font-weight="bold" >NO<tspan font-size="5.8" dy="1.8">2</tspan><tspan dy="-5.5" font-size="5.5">-</tspan></text>
<rect x="629" y="16.9" width="18.6" height="9.1" fill="#b8c9e1" />
<text x="649.8" y="24.9" font-size="8.3" text-anchor="start" fill="#000" font-weight="bold" >O<tspan font-size="5.8" dy="1.8">2</tspan></text>
<rect x="47.9" y="268.51" width="11.7" height="50.69" fill="#b3b2d4" />
<rect x="59.1" y="295.77" width="12.2" height="23.43" fill="#b8c8e1" />
<line x1="53.75" y1="262.01" x2="53.75" y2="274.06" stroke="#333" stroke-width="0.55" />
<line x1="52.65" y1="262.01" x2="54.85" y2="262.01" stroke="#333" stroke-width="0.55" />
<line x1="52.65" y1="274.06" x2="54.85" y2="274.06" stroke="#333" stroke-width="0.55" />
<line x1="65.45" y1="293.95" x2="65.45" y2="297.49" stroke="#333" stroke-width="0.55" />
<line x1="64.35" y1="293.95" x2="66.55" y2="293.95" stroke="#333" stroke-width="0.55" />
<line x1="64.35" y1="297.49" x2="66.55" y2="297.49" stroke="#333" stroke-width="0.55" />
<rect x="81.2" y="249.67" width="11.7" height="69.53" fill="#b3b2d4" />
<rect x="92.4" y="263.73" width="12.2" height="55.47" fill="#b8c8e1" />
<line x1="87.05" y1="239.34" x2="87.05" y2="259.9" stroke="#333" stroke-width="0.55" />
<line x1="85.95" y1="239.34" x2="88.15" y2="239.34" stroke="#333" stroke-width="0.55" />
<line x1="85.95" y1="259.9" x2="88.15" y2="259.9" stroke="#333" stroke-width="0.55" />
<line x1="98.75" y1="254.93" x2="98.75" y2="271.67" stroke="#333" stroke-width="0.55" />
<line x1="97.65" y1="254.93" x2="99.85" y2="254.93" stroke="#333" stroke-width="0.55" />
<line x1="97.65" y1="271.67" x2="99.85" y2="271.67" stroke="#333" stroke-width="0.55" />
<rect x="114.5" y="233.89" width="11.7" height="85.31" fill="#b3b2d4" />
<rect x="125.7" y="256.46" width="12.2" height="62.74" fill="#b8c8e1" />
<line x1="120.35" y1="226.14" x2="120.35" y2="241.25" stroke="#333" stroke-width="0.55" />
<line x1="119.25" y1="226.14" x2="121.45" y2="226.14" stroke="#333" stroke-width="0.55" />
<line x1="119.25" y1="241.25" x2="121.45" y2="241.25" stroke="#333" stroke-width="0.55" />
<line x1="132.05" y1="244.98" x2="132.05" y2="267.55" stroke="#333" stroke-width="0.55" />
<line x1="130.95" y1="244.98" x2="133.15" y2="244.98" stroke="#333" stroke-width="0.55" />
<line x1="130.95" y1="267.55" x2="133.15" y2="267.55" stroke="#333" stroke-width="0.55" />
<rect x="147.8" y="209.78" width="11.7" height="109.42" fill="#b3b2d4" />
<rect x="159" y="254.45" width="12.2" height="64.75" fill="#b8c8e1" />
<line x1="153.65" y1="202.23" x2="153.65" y2="217.05" stroke="#333" stroke-width="0.55" />
<line x1="152.55" y1="202.23" x2="154.75" y2="202.23" stroke="#333" stroke-width="0.55" />
<line x1="152.55" y1="217.05" x2="154.75" y2="217.05" stroke="#333" stroke-width="0.55" />
<line x1="165.35" y1="249" x2="165.35" y2="259.23" stroke="#333" stroke-width="0.55" />
<line x1="164.25" y1="249" x2="166.45" y2="249" stroke="#333" stroke-width="0.55" />
<line x1="164.25" y1="259.23" x2="166.45" y2="259.23" stroke="#333" stroke-width="0.55" />
<rect x="181.1" y="203.28" width="11.7" height="115.92" fill="#b3b2d4" />
<rect x="192.3" y="243.64" width="12.2" height="75.56" fill="#b8c8e1" />
<line x1="186.95" y1="197.92" x2="186.95" y2="208.45" stroke="#333" stroke-width="0.55" />
<line x1="185.85" y1="197.92" x2="188.05" y2="197.92" stroke="#333" stroke-width="0.55" />
<line x1="185.85" y1="208.45" x2="188.05" y2="208.45" stroke="#333" stroke-width="0.55" />
<line x1="198.65" y1="228.43" x2="198.65" y2="258.47" stroke="#333" stroke-width="0.55" />
<line x1="197.55" y1="228.43" x2="199.75" y2="228.43" stroke="#333" stroke-width="0.55" />
<line x1="197.55" y1="258.47" x2="199.75" y2="258.47" stroke="#333" stroke-width="0.55" />
<path d="M42.6,185.3 L42.6,319.2 L209.3,319.2 L209.3,185.3 L42.6,185.3" stroke="#000" stroke-width="1.1" fill="none" stroke-linecap="square"/>
<line x1="42.6" y1="319.2" x2="39.8" y2="319.2" stroke="#000" stroke-width="1" />
<line x1="42.6" y1="300.07" x2="39.8" y2="300.07" stroke="#000" stroke-width="1" />
<line x1="42.6" y1="280.94" x2="39.8" y2="280.94" stroke="#000" stroke-width="1" />
<line x1="42.6" y1="261.81" x2="39.8" y2="261.81" stroke="#000" stroke-width="1" />
<line x1="42.6" y1="242.69" x2="39.8" y2="242.69" stroke="#000" stroke-width="1" />
<line x1="42.6" y1="223.56" x2="39.8" y2="223.56" stroke="#000" stroke-width="1" />
<line x1="42.6" y1="204.43" x2="39.8" y2="204.43" stroke="#000" stroke-width="1" />
<line x1="42.6" y1="185.3" x2="39.8" y2="185.3" stroke="#000" stroke-width="1" />
<line x1="42.6" y1="309.64" x2="40.9" y2="309.64" stroke="#000" stroke-width="1" />
<line x1="42.6" y1="290.51" x2="40.9" y2="290.51" stroke="#000" stroke-width="1" />
<line x1="42.6" y1="271.38" x2="40.9" y2="271.38" stroke="#000" stroke-width="1" />
<line x1="42.6" y1="252.25" x2="40.9" y2="252.25" stroke="#000" stroke-width="1" />
<line x1="42.6" y1="233.12" x2="40.9" y2="233.12" stroke="#000" stroke-width="1" />
<line x1="42.6" y1="213.99" x2="40.9" y2="213.99" stroke="#000" stroke-width="1" />
<line x1="42.6" y1="194.86" x2="40.9" y2="194.86" stroke="#000" stroke-width="1" />
<line x1="59.6" y1="319.2" x2="59.6" y2="322" stroke="#000" stroke-width="1" />
<line x1="76.25" y1="319.2" x2="76.25" y2="320.9" stroke="#000" stroke-width="1" />
<text x="59.6" y="331.3" font-size="9" text-anchor="middle" fill="#000" font-weight="bold" >200</text>
<line x1="92.9" y1="319.2" x2="92.9" y2="322" stroke="#000" stroke-width="1" />
<line x1="109.55" y1="319.2" x2="109.55" y2="320.9" stroke="#000" stroke-width="1" />
<text x="92.9" y="331.3" font-size="9" text-anchor="middle" fill="#000" font-weight="bold" >300</text>
<line x1="126.2" y1="319.2" x2="126.2" y2="322" stroke="#000" stroke-width="1" />
<line x1="142.85" y1="319.2" x2="142.85" y2="320.9" stroke="#000" stroke-width="1" />
<text x="126.2" y="331.3" font-size="9" text-anchor="middle" fill="#000" font-weight="bold" >400</text>
<line x1="159.5" y1="319.2" x2="159.5" y2="322" stroke="#000" stroke-width="1" />
<line x1="176.15" y1="319.2" x2="176.15" y2="320.9" stroke="#000" stroke-width="1" />
<text x="159.5" y="331.3" font-size="9" text-anchor="middle" fill="#000" font-weight="bold" >500</text>
<line x1="192.8" y1="319.2" x2="192.8" y2="322" stroke="#000" stroke-width="1" />
<text x="192.8" y="331.3" font-size="9" text-anchor="middle" fill="#000" font-weight="bold" >600</text>
<text x="38.2" y="321.9" font-size="9" text-anchor="end" fill="#000" font-weight="bold" >0</text>
<text x="38.2" y="302.77" font-size="9" text-anchor="end" fill="#000" font-weight="bold" >20</text>
<text x="38.2" y="283.64" font-size="9" text-anchor="end" fill="#000" font-weight="bold" >40</text>
<text x="38.2" y="264.51" font-size="9" text-anchor="end" fill="#000" font-weight="bold" >60</text>
<text x="38.2" y="245.39" font-size="9" text-anchor="end" fill="#000" font-weight="bold" >80</text>
<text x="38.2" y="226.26" font-size="9" text-anchor="end" fill="#000" font-weight="bold" >100</text>
<text x="38.2" y="207.13" font-size="9" text-anchor="end" fill="#000" font-weight="bold" >120</text>
<text x="38.2" y="188" font-size="9" text-anchor="end" fill="#000" font-weight="bold" >140</text>
<text x="125.4" y="344.8" font-size="11.8" text-anchor="middle" fill="#000" font-weight="bold" ><tspan font-style="italic">j</tspan> (mA cm<tspan font-size="7" dy="-4">-2</tspan><tspan dy="4" font-size="11.8">)</tspan></text>
<text x="19" y="254" font-size="11.6" text-anchor="middle" fill="#000" font-weight="bold" transform="rotate(-90 19 254)" >Yield<tspan font-size="7.5" dy="2.5">NO</tspan><tspan font-size="5.4" dy="1.2">2</tspan><tspan dy="-3.7" font-size="5.4">-</tspan><tspan dy="0" font-size="11.6">  (mg h</tspan><tspan font-size="7.5" dy="-4">-1</tspan><tspan dy="4" font-size="11.6"> cm</tspan><tspan font-size="7.5" dy="-4">-2</tspan><tspan dy="4" font-size="11.6">)</tspan></text>
<text x="2.8" y="184.7" font-size="15.5" text-anchor="start" fill="#000" font-weight="bold" >d</text>
<rect x="45.1" y="187.8" width="19.9" height="9.1" fill="#b3b2d4" />
<rect x="45.1" y="200.8" width="19.9" height="9.2" fill="#b8c8e1" />
<text x="67.4" y="195.5" font-size="8.8" text-anchor="start" fill="#000" font-weight="bold" >Cr-Ni<tspan font-size="6.2" dy="2">3</tspan><tspan dy="-2">S</tspan><tspan font-size="6.2" dy="2">2</tspan></text>
<text x="67.4" y="208.6" font-size="8.8" text-anchor="start" fill="#000" font-weight="bold" >Ni<tspan font-size="6.2" dy="2">3</tspan><tspan dy="-2">S</tspan><tspan font-size="6.2" dy="2">2</tspan></text>
<path d="M256.6,248.9 C262.17,248.9 282.77,248.92 290,248.9 C297.23,248.88 297.5,248.85 300,248.8 C302.5,248.75 303.57,248.77 305,248.6 C306.43,248.43 307.52,248.4 308.6,247.8 C309.68,247.2 310.48,245.98 311.5,245 C312.52,244.02 313.13,243.45 314.7,241.9 C316.27,240.35 318.83,237.55 320.9,235.7 C322.97,233.85 325.25,232.15 327.1,230.8 C328.95,229.45 330.35,228.63 332,227.6 C333.65,226.57 334.93,226.13 337,224.6 C339.07,223.07 342.23,219.9 344.4,218.4 C346.57,216.9 348.23,216.23 350,215.6 C351.77,214.97 353.32,214.82 355,214.6 C356.68,214.38 358.1,214.27 360.1,214.3 C362.1,214.33 364.57,214.52 367,214.8 C369.43,215.08 372.37,215.67 374.7,216 C377.03,216.33 378.57,216.62 381,216.8 C383.43,216.98 386.47,217.1 389.3,217.1 C392.13,217.1 394.95,216.95 398,216.8 C401.05,216.65 404.27,216.43 407.6,216.2 C410.93,215.97 414.35,215.73 418,215.4 C421.65,215.07 427.58,214.4 429.5,214.2" stroke="#3f7fca" stroke-width="1.75" fill="none" stroke-linejoin="round" stroke-linecap="round" />
<path d="M256.6,248.9 C261.33,248.9 278.93,248.95 285,248.9 C291.07,248.85 290.52,248.87 293,248.6 C295.48,248.33 297.72,248.22 299.9,247.3 C302.08,246.38 304.03,244.72 306.1,243.1 C308.17,241.48 310.03,239.35 312.3,237.6 C314.57,235.85 317.23,234.25 319.7,232.6 C322.17,230.95 324.22,229.65 327.1,227.7 C329.98,225.75 333.18,224 337,220.9 C340.82,217.8 346.75,211.92 350,209.1 C353.25,206.28 353.67,206.25 356.5,204 C359.33,201.75 363.42,198.42 367,195.6 C370.58,192.78 376.17,188.52 378,187.1" stroke="#3aaa35" stroke-width="1.75" fill="none" stroke-linejoin="round" stroke-linecap="round" />
<path d="M256.6,248.9 C262.5,248.9 284.77,248.93 292,248.9 C299.23,248.87 297.87,248.85 300,248.7 C302.13,248.55 302.97,248.72 304.8,248 C306.63,247.28 308.93,246.23 311,244.4 C313.07,242.57 315.65,239.07 317.2,237 C318.75,234.93 319.37,233.9 320.3,232 C321.23,230.1 321.67,228.07 322.8,225.6 C323.93,223.13 325.35,220.25 327.1,217.2 C328.85,214.15 331.23,210.6 333.3,207.3 C335.37,204 337.43,200.77 339.5,197.4 C341.57,194.03 344.67,188.82 345.7,187.1" stroke="#000" stroke-width="1.75" fill="none" stroke-linejoin="round" stroke-linecap="round" />
<path d="M256.6,248.9 C261.83,248.9 281.43,248.97 288,248.9 C294.57,248.83 293.6,248.83 296,248.5 C298.4,248.17 300.3,248 302.4,246.9 C304.5,245.8 306.95,243.72 308.6,241.9 C310.25,240.08 311.17,238.47 312.3,236 C313.43,233.53 314.37,230.35 315.4,227.1 C316.43,223.85 317.37,219.6 318.5,216.5 C319.63,213.4 320.97,210.87 322.2,208.5 C323.43,206.13 324.47,204.57 325.9,202.3 C327.33,200.03 328.95,197.43 330.8,194.9 C332.65,192.37 335.97,188.4 337,187.1" stroke="#e8464b" stroke-width="1.75" fill="none" stroke-linejoin="round" stroke-linecap="round" />
<path d="M256.6,187.1 L256.6,249.2 L429.5,249.2 L429.5,187.1 L256.6,187.1" stroke="#000" stroke-width="1.1" fill="none" stroke-linecap="square"/>
<line x1="256.6" y1="248.9" x2="253.8" y2="248.9" stroke="#000" stroke-width="1" />
<line x1="256.6" y1="235.59" x2="253.8" y2="235.59" stroke="#000" stroke-width="1" />
<line x1="256.6" y1="222.29" x2="253.8" y2="222.29" stroke="#000" stroke-width="1" />
<line x1="256.6" y1="208.99" x2="253.8" y2="208.99" stroke="#000" stroke-width="1" />
<line x1="256.6" y1="195.68" x2="253.8" y2="195.68" stroke="#000" stroke-width="1" />
<line x1="256.6" y1="242.25" x2="254.9" y2="242.25" stroke="#000" stroke-width="1" />
<line x1="256.6" y1="228.94" x2="254.9" y2="228.94" stroke="#000" stroke-width="1" />
<line x1="256.6" y1="215.64" x2="254.9" y2="215.64" stroke="#000" stroke-width="1" />
<line x1="256.6" y1="202.33" x2="254.9" y2="202.33" stroke="#000" stroke-width="1" />
<line x1="256.6" y1="189.03" x2="254.9" y2="189.03" stroke="#000" stroke-width="1" />
<line x1="256.6" y1="249.2" x2="256.6" y2="252" stroke="#000" stroke-width="1" />
<line x1="283.27" y1="249.2" x2="283.27" y2="252" stroke="#000" stroke-width="1" />
<line x1="309.94" y1="249.2" x2="309.94" y2="252" stroke="#000" stroke-width="1" />
<line x1="336.61" y1="249.2" x2="336.61" y2="252" stroke="#000" stroke-width="1" />
<line x1="363.28" y1="249.2" x2="363.28" y2="252" stroke="#000" stroke-width="1" />
<line x1="389.95" y1="249.2" x2="389.95" y2="252" stroke="#000" stroke-width="1" />
<line x1="416.62" y1="249.2" x2="416.62" y2="252" stroke="#000" stroke-width="1" />
<line x1="269.94" y1="249.2" x2="269.94" y2="250.9" stroke="#000" stroke-width="1" />
<line x1="296.61" y1="249.2" x2="296.61" y2="250.9" stroke="#000" stroke-width="1" />
<line x1="323.28" y1="249.2" x2="323.28" y2="250.9" stroke="#000" stroke-width="1" />
<line x1="349.94" y1="249.2" x2="349.94" y2="250.9" stroke="#000" stroke-width="1" />
<line x1="376.62" y1="249.2" x2="376.62" y2="250.9" stroke="#000" stroke-width="1" />
<line x1="403.28" y1="249.2" x2="403.28" y2="250.9" stroke="#000" stroke-width="1" />
<line x1="429.95" y1="249.2" x2="429.95" y2="250.9" stroke="#000" stroke-width="1" />
<text x="251.2" y="251.6" font-size="9" text-anchor="end" fill="#000" font-weight="bold" >0</text>
<text x="251.2" y="238.29" font-size="9" text-anchor="end" fill="#000" font-weight="bold" >150</text>
<text x="251.2" y="224.99" font-size="9" text-anchor="end" fill="#000" font-weight="bold" >300</text>
<text x="251.2" y="211.69" font-size="9" text-anchor="end" fill="#000" font-weight="bold" >450</text>
<text x="251.2" y="198.38" font-size="9" text-anchor="end" fill="#000" font-weight="bold" >600</text>
<text x="256.6" y="257.6" font-size="9" text-anchor="middle" fill="#000" font-weight="bold" >1.1</text>
<text x="283.27" y="257.6" font-size="9" text-anchor="middle" fill="#000" font-weight="bold" >1.2</text>
<text x="309.94" y="257.6" font-size="9" text-anchor="middle" fill="#000" font-weight="bold" >1.3</text>
<text x="336.61" y="257.6" font-size="9" text-anchor="middle" fill="#000" font-weight="bold" >1.4</text>
<text x="363.28" y="257.6" font-size="9" text-anchor="middle" fill="#000" font-weight="bold" >1.5</text>
<text x="389.95" y="257.6" font-size="9" text-anchor="middle" fill="#000" font-weight="bold" >1.6</text>
<text x="416.62" y="257.6" font-size="9" text-anchor="middle" fill="#000" font-weight="bold" >1.7</text>
<text x="343" y="267.6" font-size="11.8" text-anchor="middle" fill="#000" font-weight="bold" ><tspan font-style="italic">E</tspan>-<tspan font-style="italic">iR</tspan> (V vs. RHE)</text>
<line x1="257.4" y1="191.2" x2="278.1" y2="191.2" stroke="#e8464b" stroke-width="1.6" />
<text x="280.4" y="194.6" font-size="9.3" text-anchor="start" fill="#000" font-weight="bold" >Cr-Ni<tspan font-size="6.5" dy="2">3</tspan><tspan dy="-2">S</tspan><tspan font-size="6.5" dy="2">2</tspan></text>
<line x1="257.4" y1="204.95" x2="278.1" y2="204.95" stroke="#000" stroke-width="1.6" />
<text x="280.4" y="208.35" font-size="9.3" text-anchor="start" fill="#000" font-weight="bold" >Sn-Ni<tspan font-size="6.5" dy="2">3</tspan><tspan dy="-2">S</tspan><tspan font-size="6.5" dy="2">2</tspan></text>
<line x1="257.4" y1="218.7" x2="278.1" y2="218.7" stroke="#3aaa35" stroke-width="1.6" />
<text x="280.4" y="222.1" font-size="9.3" text-anchor="start" fill="#000" font-weight="bold" >Ti-Ni<tspan font-size="6.5" dy="2">3</tspan><tspan dy="-2">S</tspan><tspan font-size="6.5" dy="2">2</tspan></text>
<line x1="257.4" y1="232.45" x2="278.1" y2="232.45" stroke="#3f7fca" stroke-width="1.6" />
<text x="280.4" y="235.85" font-size="9.3" text-anchor="start" fill="#000" font-weight="bold" >Ni<tspan font-size="6.5" dy="2">3</tspan><tspan dy="-2">S</tspan><tspan font-size="6.5" dy="2">2</tspan></text>
<path d="M256.6,329.6 C262.17,329.57 281.1,329.52 290,329.4 C298.9,329.28 305,329.2 310,328.9 C315,328.6 317,328.15 320,327.6 C323,327.05 325.08,326.43 328,325.6 C330.92,324.77 334.83,323.62 337.5,322.6 C340.17,321.58 341.95,320.63 344,319.5 C346.05,318.37 347.63,317.28 349.8,315.8 C351.97,314.32 354.67,312.42 357,310.6 C359.33,308.78 361.97,306.57 363.8,304.9 C365.63,303.23 366.53,302.1 368,300.6 C369.47,299.1 371.1,297.37 372.6,295.9 C374.1,294.43 375.55,293.12 377,291.8 C378.45,290.48 379.8,289.3 381.3,288 C382.8,286.7 384.53,285.32 386,284 C387.47,282.68 388.77,281.52 390.1,280.1 C391.43,278.68 392.68,277.13 394,275.5 C395.32,273.87 397.33,271.17 398,270.3" stroke="#e8464b" stroke-width="1.75" fill="none" stroke-linejoin="round" stroke-linecap="round" />
<path d="M256.6,329.7 C262.17,329.67 281.1,329.62 290,329.5 C298.9,329.38 305,329.25 310,329 C315,328.75 317,328.45 320,328 C323,327.55 325.08,326.97 328,326.3 C330.92,325.63 334.5,324.97 337.5,324 C340.5,323.03 343.08,321.82 346,320.5 C348.92,319.18 352,317.77 355,316.1 C358,314.43 361.07,312.55 364,310.5 C366.93,308.45 369.93,305.92 372.6,303.8 C375.27,301.68 377.67,299.55 380,297.8 C382.33,296.05 384.6,294.6 386.6,293.3 C388.6,292 389.97,291.17 392,290 C394.03,288.83 396.8,287.47 398.8,286.3 C400.8,285.13 402.25,284.17 404,283 C405.75,281.83 407.63,280.72 409.3,279.3 C410.97,277.88 412.58,276 414,274.5 C415.42,273 417.17,271 417.8,270.3" stroke="#3f7fca" stroke-width="1.75" fill="none" stroke-linejoin="round" stroke-linecap="round" />
<path d="M256.6,269.6 L256.6,330.2 L429.5,330.2 L429.5,269.6 L256.6,269.6" stroke="#000" stroke-width="1.1" fill="none" stroke-linecap="square"/>
<line x1="256.6" y1="330.2" x2="253.8" y2="330.2" stroke="#000" stroke-width="1" />
<line x1="256.6" y1="310.14" x2="253.8" y2="310.14" stroke="#000" stroke-width="1" />
<line x1="256.6" y1="290.08" x2="253.8" y2="290.08" stroke="#000" stroke-width="1" />
<line x1="256.6" y1="270.02" x2="253.8" y2="270.02" stroke="#000" stroke-width="1" />
<line x1="256.6" y1="320.17" x2="254.9" y2="320.17" stroke="#000" stroke-width="1" />
<line x1="256.6" y1="300.11" x2="254.9" y2="300.11" stroke="#000" stroke-width="1" />
<line x1="256.6" y1="280.05" x2="254.9" y2="280.05" stroke="#000" stroke-width="1" />
<line x1="256.6" y1="330.2" x2="256.6" y2="333" stroke="#000" stroke-width="1" />
<line x1="283.27" y1="330.2" x2="283.27" y2="333" stroke="#000" stroke-width="1" />
<line x1="309.94" y1="330.2" x2="309.94" y2="333" stroke="#000" stroke-width="1" />
<line x1="336.61" y1="330.2" x2="336.61" y2="333" stroke="#000" stroke-width="1" />
<line x1="363.28" y1="330.2" x2="363.28" y2="333" stroke="#000" stroke-width="1" />
<line x1="389.95" y1="330.2" x2="389.95" y2="333" stroke="#000" stroke-width="1" />
<line x1="416.62" y1="330.2" x2="416.62" y2="333" stroke="#000" stroke-width="1" />
<line x1="269.94" y1="330.2" x2="269.94" y2="331.9" stroke="#000" stroke-width="1" />
<line x1="296.61" y1="330.2" x2="296.61" y2="331.9" stroke="#000" stroke-width="1" />
<line x1="323.28" y1="330.2" x2="323.28" y2="331.9" stroke="#000" stroke-width="1" />
<line x1="349.94" y1="330.2" x2="349.94" y2="331.9" stroke="#000" stroke-width="1" />
<line x1="376.62" y1="330.2" x2="376.62" y2="331.9" stroke="#000" stroke-width="1" />
<line x1="403.28" y1="330.2" x2="403.28" y2="331.9" stroke="#000" stroke-width="1" />
<line x1="429.95" y1="330.2" x2="429.95" y2="331.9" stroke="#000" stroke-width="1" />
<text x="251.2" y="332.9" font-size="9" text-anchor="end" fill="#000" font-weight="bold" >0</text>
<text x="251.2" y="312.84" font-size="9" text-anchor="end" fill="#000" font-weight="bold" >200</text>
<text x="251.2" y="292.78" font-size="9" text-anchor="end" fill="#000" font-weight="bold" >400</text>
<text x="251.2" y="272.72" font-size="9" text-anchor="end" fill="#000" font-weight="bold" >600</text>
<text x="256.6" y="339.1" font-size="9" text-anchor="middle" fill="#000" font-weight="bold" >1.1</text>
<text x="283.27" y="339.1" font-size="9" text-anchor="middle" fill="#000" font-weight="bold" >1.2</text>
<text x="309.94" y="339.1" font-size="9" text-anchor="middle" fill="#000" font-weight="bold" >1.3</text>
<text x="336.61" y="339.1" font-size="9" text-anchor="middle" fill="#000" font-weight="bold" >1.4</text>
<text x="363.28" y="339.1" font-size="9" text-anchor="middle" fill="#000" font-weight="bold" >1.5</text>
<text x="389.95" y="339.1" font-size="9" text-anchor="middle" fill="#000" font-weight="bold" >1.6</text>
<text x="416.62" y="339.1" font-size="9" text-anchor="middle" fill="#000" font-weight="bold" >1.7</text>
<text x="343" y="350.8" font-size="11.8" text-anchor="middle" fill="#000" font-weight="bold" ><tspan font-style="italic">E</tspan>-<tspan font-style="italic">iR</tspan> (V vs. RHE)</text>
<line x1="257.4" y1="276.2" x2="278.1" y2="276.2" stroke="#e8464b" stroke-width="1.6" />
<line x1="257.4" y1="289.4" x2="278.1" y2="289.4" stroke="#3f7fca" stroke-width="1.6" />
<text x="280.2" y="279.6" font-size="9.3" text-anchor="start" fill="#000" font-weight="bold" >Cr-Cu<tspan font-size="6.5" dy="2">2</tspan><tspan dy="-2">S</tspan></text>
<text x="280.2" y="292.8" font-size="9.3" text-anchor="start" fill="#000" font-weight="bold" >Cu<tspan font-size="6.5" dy="2">2</tspan><tspan dy="-2">S</tspan></text>
<text x="232.5" y="218" font-size="11.8" text-anchor="middle" fill="#000" font-weight="bold" transform="rotate(-90 232.5 218)" ><tspan font-style="italic">j</tspan> (mA cm<tspan font-size="7" dy="-4">-2</tspan><tspan dy="4" font-size="11.8">)</tspan></text>
<text x="232.5" y="300" font-size="11.8" text-anchor="middle" fill="#000" font-weight="bold" transform="rotate(-90 232.5 300)" ><tspan font-style="italic">j</tspan> (mA cm<tspan font-size="7" dy="-4">-2</tspan><tspan dy="4" font-size="11.8">)</tspan></text>
<text x="216.6" y="184.3" font-size="15.5" text-anchor="start" fill="#000" font-weight="bold" >e</text>
<rect x="498.9" y="217.5" width="12" height="110.1" fill="#cabcda" />
<rect x="498.9" y="231.84" width="12" height="95.76" fill="#b3b2d4" />
<rect x="528.93" y="223.44" width="12" height="104.16" fill="#cabcda" />
<rect x="528.93" y="238.34" width="12" height="89.26" fill="#b3b2d4" />
<rect x="558.96" y="222.1" width="12" height="105.5" fill="#cabcda" />
<rect x="558.96" y="244.94" width="12" height="82.66" fill="#b3b2d4" />
<rect x="588.99" y="225.34" width="12" height="102.26" fill="#cabcda" />
<rect x="588.99" y="256.82" width="12" height="70.78" fill="#b3b2d4" />
<rect x="619.02" y="228.82" width="12" height="98.78" fill="#cabcda" />
<rect x="619.02" y="256.82" width="12" height="70.78" fill="#b3b2d4" />
<rect x="649.05" y="235.87" width="12" height="91.73" fill="#cabcda" />
<rect x="649.05" y="271.04" width="12" height="56.56" fill="#b3b2d4" />
<path d="M490,193.2 L490,327.6 L670.3,327.6 L670.3,193.2 L490,193.2" stroke="#000" stroke-width="1.1" fill="none" stroke-linecap="square"/>
<line x1="490" y1="327.6" x2="487.2" y2="327.6" stroke="#000" stroke-width="1" />
<line x1="490" y1="305.2" x2="487.2" y2="305.2" stroke="#000" stroke-width="1" />
<line x1="490" y1="282.8" x2="487.2" y2="282.8" stroke="#000" stroke-width="1" />
<line x1="490" y1="260.4" x2="487.2" y2="260.4" stroke="#000" stroke-width="1" />
<line x1="490" y1="238" x2="487.2" y2="238" stroke="#000" stroke-width="1" />
<line x1="490" y1="215.6" x2="487.2" y2="215.6" stroke="#000" stroke-width="1" />
<line x1="490" y1="193.2" x2="487.2" y2="193.2" stroke="#000" stroke-width="1" />
<line x1="490" y1="316.4" x2="488.3" y2="316.4" stroke="#000" stroke-width="1" />
<line x1="490" y1="294" x2="488.3" y2="294" stroke="#000" stroke-width="1" />
<line x1="490" y1="271.6" x2="488.3" y2="271.6" stroke="#000" stroke-width="1" />
<line x1="490" y1="249.2" x2="488.3" y2="249.2" stroke="#000" stroke-width="1" />
<line x1="490" y1="226.8" x2="488.3" y2="226.8" stroke="#000" stroke-width="1" />
<line x1="490" y1="204.4" x2="488.3" y2="204.4" stroke="#000" stroke-width="1" />
<line x1="504.9" y1="327.6" x2="504.9" y2="330.4" stroke="#000" stroke-width="1" />
<line x1="534.93" y1="327.6" x2="534.93" y2="330.4" stroke="#000" stroke-width="1" />
<line x1="564.96" y1="327.6" x2="564.96" y2="330.4" stroke="#000" stroke-width="1" />
<line x1="594.99" y1="327.6" x2="594.99" y2="330.4" stroke="#000" stroke-width="1" />
<line x1="625.02" y1="327.6" x2="625.02" y2="330.4" stroke="#000" stroke-width="1" />
<line x1="655.05" y1="327.6" x2="655.05" y2="330.4" stroke="#000" stroke-width="1" />
<text x="485.6" y="330.3" font-size="9" text-anchor="end" fill="#000" font-weight="bold" >0</text>
<text x="485.6" y="307.9" font-size="9" text-anchor="end" fill="#000" font-weight="bold" >20</text>
<text x="485.6" y="285.5" font-size="9" text-anchor="end" fill="#000" font-weight="bold" >40</text>
<text x="485.6" y="263.1" font-size="9" text-anchor="end" fill="#000" font-weight="bold" >60</text>
<text x="485.6" y="240.7" font-size="9" text-anchor="end" fill="#000" font-weight="bold" >80</text>
<text x="485.6" y="218.3" font-size="9" text-anchor="end" fill="#000" font-weight="bold" >100</text>
<text x="485.6" y="195.9" font-size="9" text-anchor="end" fill="#000" font-weight="bold" >120</text>
<text x="507.9" y="344.5" font-size="8.8" text-anchor="middle" fill="#000" font-weight="bold" transform="rotate(20 507.9 344.5)" >Cr-Ni<tspan font-size="6.3" dy="2">3</tspan><tspan dy="-2">S</tspan><tspan font-size="6.3" dy="2">2</tspan></text>
<text x="537.93" y="344.5" font-size="8.8" text-anchor="middle" fill="#000" font-weight="bold" transform="rotate(20 537.93 344.5)" >Sn-Ni<tspan font-size="6.3" dy="2">3</tspan><tspan dy="-2">S</tspan><tspan font-size="6.3" dy="2">2</tspan></text>
<text x="567.96" y="344.5" font-size="8.8" text-anchor="middle" fill="#000" font-weight="bold" transform="rotate(20 567.96 344.5)" >Ti-Ni<tspan font-size="6.3" dy="2">3</tspan><tspan dy="-2">S</tspan><tspan font-size="6.3" dy="2">2</tspan></text>
<text x="597.99" y="344.5" font-size="8.8" text-anchor="middle" fill="#000" font-weight="bold" transform="rotate(20 597.99 344.5)" >Ni<tspan font-size="6.3" dy="2">3</tspan><tspan dy="-2">S</tspan><tspan font-size="6.3" dy="2">2</tspan></text>
<text x="628.02" y="344.5" font-size="8.8" text-anchor="middle" fill="#000" font-weight="bold" transform="rotate(20 628.02 344.5)" >Cr-Cu<tspan font-size="6.3" dy="2">2</tspan><tspan dy="-2">S</tspan></text>
<text x="658.05" y="344.5" font-size="8.8" text-anchor="middle" fill="#000" font-weight="bold" transform="rotate(20 658.05 344.5)" >Cu<tspan font-size="6.3" dy="2">2</tspan><tspan dy="-2">S</tspan></text>
<text x="467.5" y="261" font-size="11.8" text-anchor="middle" fill="#000" font-weight="bold" transform="rotate(-90 467.5 261)" >FE (%)</text>
<text x="454.6" y="184.4" font-size="15.5" text-anchor="start" fill="#000" font-weight="bold" >f</text>
<rect x="583.4" y="195.7" width="19.3" height="9.9" fill="#cabcda" />
<text x="605.2" y="204" font-size="8.3" text-anchor="start" fill="#000" font-weight="bold" >N<tspan font-size="5.8" dy="1.8">2</tspan></text>
<rect x="618" y="195.7" width="19.2" height="9.9" fill="#b3b2d4" />
<text x="639.5" y="204" font-size="8.3" text-anchor="start" fill="#000" font-weight="bold" >NO<tspan font-size="5.8" dy="1.8">2</tspan><tspan dy="-5.5" font-size="5.5">-</tspan></text>
<defs>
<linearGradient id="gred" x1="0" y1="0" x2="1" y2="0">
<stop offset="0" stop-color="#e8848c"/><stop offset="0.5" stop-color="#f7d3d6"/><stop offset="1" stop-color="#e8848c"/>
</linearGradient>
<linearGradient id="gteal" x1="0" y1="0" x2="1" y2="0">
<stop offset="0" stop-color="#7a9a96"/><stop offset="0.25" stop-color="#b0b5be"/><stop offset="0.5" stop-color="#dbd2e8"/><stop offset="0.75" stop-color="#b0b5be"/><stop offset="1" stop-color="#7a9a96"/>
</linearGradient>
<linearGradient id="gtealsw" x1="0" y1="0" x2="1" y2="0">
<stop offset="0" stop-color="#8ec3be"/><stop offset="0.5" stop-color="#dde9f8"/><stop offset="1" stop-color="#8ec3be"/>
</linearGradient>
</defs>
<polygon points="107.7,381.8 163.3,413.9 163.3,478.1 107.7,510.2 52.1,478.1 52.1,413.9" fill="#fbfbfb" stroke="#9a9a9a" stroke-width="0.75"/>
<polygon points="107.7,384 161.39,415 161.39,477 107.7,508 54.01,477 54.01,415" fill="#fff" stroke="#d0d0d0" stroke-width="0.6"/>
<polygon points="107.7,391.2 154.73,418.85 159.92,476.15 107.7,493.5 55.05,476.4 60.33,418.65" fill="url(#gred)" stroke="#e8838b" stroke-width="0.5"/>
<polygon points="107.7,406 146.06,423.85 144.68,467.35 107.7,458.7 72.37,466.4 72.19,425.5" fill="url(#gteal)" stroke="#5fa097" stroke-width="1"/>
<polygon points="107.7,406.4 141.99,426.2 141.99,465.8 107.7,485.6 73.41,465.8 73.41,426.2" fill="none" stroke="#808080" stroke-width="0.4" opacity="0.55"/>
<line x1="107.7" y1="446" x2="107.7" y2="384" stroke="#8a8a8a" stroke-width="0.4" opacity="0.55"/>
<line x1="107.7" y1="446" x2="161.39" y2="415" stroke="#8a8a8a" stroke-width="0.4" opacity="0.55"/>
<line x1="107.7" y1="446" x2="161.39" y2="477" stroke="#8a8a8a" stroke-width="0.4" opacity="0.55"/>
<line x1="107.7" y1="446" x2="107.7" y2="508" stroke="#8a8a8a" stroke-width="0.4" opacity="0.55"/>
<line x1="107.7" y1="446" x2="54.01" y2="477" stroke="#8a8a8a" stroke-width="0.4" opacity="0.55"/>
<line x1="107.7" y1="446" x2="54.01" y2="415" stroke="#8a8a8a" stroke-width="0.4" opacity="0.55"/>
<text x="107.4" y="390.9" font-size="6.2" text-anchor="end" fill="#222" font-weight="bold" >1.2</text>
<text x="107.4" y="415.2" font-size="6.2" text-anchor="end" fill="#222" font-weight="bold" >1.8</text>
<text x="144.2" y="420.3" font-size="6.2" text-anchor="middle" fill="#222" font-weight="bold" >1.72</text>
<text x="129.4" y="428.9" font-size="6.2" text-anchor="middle" fill="#222" font-weight="bold" >2.15</text>
<text x="138" y="460.6" font-size="6.2" text-anchor="middle" fill="#222" font-weight="bold" >28.8</text>
<text x="156.4" y="470.5" font-size="6.2" text-anchor="middle" fill="#222" font-weight="bold" >28.0</text>
<text x="109.6" y="480.6" font-size="6.2" text-anchor="start" fill="#222" font-weight="bold" >0.9</text>
<text x="109.3" y="512.7" font-size="6.2" text-anchor="start" fill="#222" font-weight="bold" >1.8</text>
<text x="65.8" y="478.9" font-size="6.2" text-anchor="middle" fill="#222" font-weight="bold" >4</text>
<text x="88.3" y="466" font-size="6.2" text-anchor="middle" fill="#222" font-weight="bold" >2</text>
<text x="56.4" y="423.1" font-size="6.2" text-anchor="middle" fill="#222" font-weight="bold" >90</text>
<text x="73.4" y="432.3" font-size="6.2" text-anchor="middle" fill="#222" font-weight="bold" >60</text>
<text x="90" y="442.2" font-size="6.2" text-anchor="middle" fill="#222" font-weight="bold" >30</text>
<text x="107.9" y="369.1" font-size="9.3" text-anchor="middle" fill="#000" font-weight="bold" >Potential (V vs. RHE)</text>
<text x="109.2" y="381.2" font-size="9.3" text-anchor="middle" fill="#000" font-weight="bold" >@ 500 mA cm<tspan font-size="6.8" dy="-3.8">-2</tspan><tspan dy="3.8" font-size="9.3"></tspan></text>
<text x="190.6" y="423.8" font-size="9.3" text-anchor="middle" fill="#000" font-weight="bold" transform="rotate(55.5 190.6 423.8)" >Potential (V vs. RHE)</text>
<text x="167.5" y="417" font-size="9.3" text-anchor="middle" fill="#000" font-weight="bold" transform="rotate(55.5 167.5 417)" >@ 1 A cm<tspan font-size="6" dy="-3.5">-2</tspan><tspan dy="3.5" font-size="9.3"></tspan></text>
<text x="174.9" y="480.7" font-size="9.3" text-anchor="middle" fill="#000" font-weight="bold" transform="rotate(-45 174.9 480.7)" >Tafel (mV dec<tspan font-size="6" dy="-3.5">-1</tspan><tspan dy="3.5" font-size="9.3">)</tspan></text>
<text x="107.4" y="519.8" font-size="9.3" text-anchor="middle" fill="#000" font-weight="bold" >TOF (s<tspan font-size="6" dy="-3.5">-1</tspan><tspan dy="3.5" font-size="9.3">)</tspan></text>
<text x="52.6" y="490.5" font-size="9.3" text-anchor="middle" fill="#000" font-weight="bold" transform="rotate(47 52.6 490.5)" >C<tspan font-size="6" dy="2">dl</tspan><tspan dy="-2" font-size="9.3"> (mF cm</tspan><tspan font-size="6" dy="-3.5">-2</tspan><tspan dy="3.5" font-size="9.3">)</tspan></text>
<text x="51" y="410.9" font-size="9.3" text-anchor="middle" fill="#000" font-weight="bold" transform="rotate(-43 51 410.9)" >FE<tspan font-size="6" dy="2">NO</tspan><tspan font-size="4.5" dy="1">2</tspan><tspan dy="-3" font-size="6"></tspan><tspan font-size="5" dy="-3">-</tspan><tspan dy="0" font-size="9.3"> (%)</tspan></text>
<rect x="160.2" y="497" width="20.6" height="10.6" fill="url(#gred)" stroke="#eaa0a6" stroke-width="0.5"/>
<rect x="160.2" y="510.8" width="20.6" height="10.2" fill="url(#gtealsw)" stroke="#7ab8b2" stroke-width="0.6"/>
<text x="183.4" y="505.8" font-size="9.3" text-anchor="start" fill="#000" font-weight="bold" >Cr-Ni<tspan font-size="6.5" dy="2">3</tspan><tspan dy="-2">S</tspan><tspan font-size="6.5" dy="2">2</tspan></text>
<text x="183.4" y="519.4" font-size="9.3" text-anchor="start" fill="#000" font-weight="bold" >Ni<tspan font-size="6.5" dy="2">3</tspan><tspan dy="-2">S</tspan><tspan font-size="6.5" dy="2">2</tspan></text>
<line x1="296.73" y1="401.7" x2="296.73" y2="415" stroke="#3f7fca" stroke-width="0.9" stroke-dasharray="2.8 1.8"/>
<line x1="296.73" y1="430.5" x2="296.73" y2="442.8" stroke="#3f7fca" stroke-width="0.9" stroke-dasharray="2.8 1.8"/>
<line x1="318.76" y1="398.7" x2="318.76" y2="415" stroke="#3f7fca" stroke-width="0.9" stroke-dasharray="2.8 1.8"/>
<line x1="318.76" y1="437.5" x2="318.76" y2="470.6" stroke="#3f7fca" stroke-width="0.9" stroke-dasharray="2.8 1.8"/>
<line x1="340.8" y1="398.3" x2="340.8" y2="415" stroke="#3f7fca" stroke-width="0.9" stroke-dasharray="2.8 1.8"/>
<line x1="340.8" y1="437.5" x2="340.8" y2="470.6" stroke="#3f7fca" stroke-width="0.9" stroke-dasharray="2.8 1.8"/>
<line x1="362.83" y1="397.1" x2="362.83" y2="415" stroke="#3f7fca" stroke-width="0.9" stroke-dasharray="2.8 1.8"/>
<line x1="362.83" y1="437.5" x2="362.83" y2="470.6" stroke="#3f7fca" stroke-width="0.9" stroke-dasharray="2.8 1.8"/>
<line x1="384.86" y1="398.4" x2="384.86" y2="415" stroke="#3f7fca" stroke-width="0.9" stroke-dasharray="2.8 1.8"/>
<line x1="384.86" y1="437.5" x2="384.86" y2="470.6" stroke="#3f7fca" stroke-width="0.9" stroke-dasharray="2.8 1.8"/>
<line x1="406.89" y1="399" x2="406.89" y2="415" stroke="#3f7fca" stroke-width="0.9" stroke-dasharray="2.8 1.8"/>
<line x1="406.89" y1="437.5" x2="406.89" y2="470.6" stroke="#3f7fca" stroke-width="0.9" stroke-dasharray="2.8 1.8"/>
<line x1="428.92" y1="397.3" x2="428.92" y2="415" stroke="#3f7fca" stroke-width="0.9" stroke-dasharray="2.8 1.8"/>
<line x1="428.92" y1="437.5" x2="428.92" y2="470.6" stroke="#3f7fca" stroke-width="0.9" stroke-dasharray="2.8 1.8"/>
<line x1="450.96" y1="396.2" x2="450.96" y2="415" stroke="#3f7fca" stroke-width="0.9" stroke-dasharray="2.8 1.8"/>
<line x1="450.96" y1="437.5" x2="450.96" y2="470.6" stroke="#3f7fca" stroke-width="0.9" stroke-dasharray="2.8 1.8"/>
<line x1="472.99" y1="397.6" x2="472.99" y2="415" stroke="#3f7fca" stroke-width="0.9" stroke-dasharray="2.8 1.8"/>
<line x1="472.99" y1="437.5" x2="472.99" y2="470.6" stroke="#3f7fca" stroke-width="0.9" stroke-dasharray="2.8 1.8"/>
<line x1="495.02" y1="402" x2="495.02" y2="415" stroke="#3f7fca" stroke-width="0.9" stroke-dasharray="2.8 1.8"/>
<line x1="495.02" y1="437.5" x2="495.02" y2="470.6" stroke="#3f7fca" stroke-width="0.9" stroke-dasharray="2.8 1.8"/>
<line x1="517.05" y1="406.2" x2="517.05" y2="415" stroke="#3f7fca" stroke-width="0.9" stroke-dasharray="2.8 1.8"/>
<line x1="517.05" y1="437.5" x2="517.05" y2="470.6" stroke="#3f7fca" stroke-width="0.9" stroke-dasharray="2.8 1.8"/>
<line x1="539.08" y1="400.6" x2="539.08" y2="415" stroke="#3f7fca" stroke-width="0.9" stroke-dasharray="2.8 1.8"/>
<line x1="539.08" y1="437.5" x2="539.08" y2="470.6" stroke="#3f7fca" stroke-width="0.9" stroke-dasharray="2.8 1.8"/>
<line x1="561.12" y1="405.4" x2="561.12" y2="415" stroke="#3f7fca" stroke-width="0.9" stroke-dasharray="2.8 1.8"/>
<line x1="561.12" y1="437.5" x2="561.12" y2="470.6" stroke="#3f7fca" stroke-width="0.9" stroke-dasharray="2.8 1.8"/>
<line x1="583.15" y1="399.3" x2="583.15" y2="415" stroke="#3f7fca" stroke-width="0.9" stroke-dasharray="2.8 1.8"/>
<line x1="583.15" y1="437.5" x2="583.15" y2="470.6" stroke="#3f7fca" stroke-width="0.9" stroke-dasharray="2.8 1.8"/>
<line x1="605.18" y1="402.5" x2="605.18" y2="415" stroke="#3f7fca" stroke-width="0.9" stroke-dasharray="2.8 1.8"/>
<line x1="605.18" y1="437.5" x2="605.18" y2="470.6" stroke="#3f7fca" stroke-width="0.9" stroke-dasharray="2.8 1.8"/>
<polyline points="296.33,446 318.36,473.8 340.4,473.8 362.43,473.8 384.46,473.8 406.49,473.8 428.52,473.8 450.56,473.8 472.59,473.8 494.62,473.8 516.65,473.8 538.68,473.8 560.72,473.8 582.75,473.8 604.78,473.8" stroke="#5db95b" stroke-width="1.0" fill="none" stroke-linejoin="round" />
<circle cx="296.33" cy="446" r="2.9" fill="#fff" stroke="#5db95b" stroke-width="0.8"/>
<circle cx="318.36" cy="473.8" r="2.9" fill="#fff" stroke="#5db95b" stroke-width="0.8"/>
<circle cx="340.4" cy="473.8" r="2.9" fill="#fff" stroke="#5db95b" stroke-width="0.8"/>
<circle cx="362.43" cy="473.8" r="2.9" fill="#fff" stroke="#5db95b" stroke-width="0.8"/>
<circle cx="384.46" cy="473.8" r="2.9" fill="#fff" stroke="#5db95b" stroke-width="0.8"/>
<circle cx="406.49" cy="473.8" r="2.9" fill="#fff" stroke="#5db95b" stroke-width="0.8"/>
<circle cx="428.52" cy="473.8" r="2.9" fill="#fff" stroke="#5db95b" stroke-width="0.8"/>
<circle cx="450.56" cy="473.8" r="2.9" fill="#fff" stroke="#5db95b" stroke-width="0.8"/>
<circle cx="472.59" cy="473.8" r="2.9" fill="#fff" stroke="#5db95b" stroke-width="0.8"/>
<circle cx="494.62" cy="473.8" r="2.9" fill="#fff" stroke="#5db95b" stroke-width="0.8"/>
<circle cx="516.65" cy="473.8" r="2.9" fill="#fff" stroke="#5db95b" stroke-width="0.8"/>
<circle cx="538.68" cy="473.8" r="2.9" fill="#fff" stroke="#5db95b" stroke-width="0.8"/>
<circle cx="560.72" cy="473.8" r="2.9" fill="#fff" stroke="#5db95b" stroke-width="0.8"/>
<circle cx="582.75" cy="473.8" r="2.9" fill="#fff" stroke="#5db95b" stroke-width="0.8"/>
<circle cx="604.78" cy="473.8" r="2.9" fill="#fff" stroke="#5db95b" stroke-width="0.8"/>
<path d="M274.4,415.8 C275.83,416.75 280.08,419.75 283,421.5 C285.92,423.25 289.73,425.68 291.9,426.3 C294.07,426.92 294.25,426.02 296,425.2 C297.75,424.38 300.4,421.6 302.4,421.4 C304.4,421.2 306.1,423.18 308,424 C309.9,424.82 312.13,426.22 313.8,426.3 C315.47,426.38 316.37,425.42 318,424.5 C319.63,423.58 321.77,420.97 323.6,420.8 C325.43,420.63 326.98,422.67 329,423.5 C331.02,424.33 333.87,425.8 335.7,425.8 C337.53,425.8 338.37,424.57 340,423.5 C341.63,422.43 343.67,419.6 345.5,419.4 C347.33,419.2 348.98,421.27 351,422.3 C353.02,423.33 355.93,425.35 357.6,425.6 C359.27,425.85 359.55,424.83 361,423.8 C362.45,422.77 364.47,419.78 366.3,419.4 C368.13,419.02 369.8,420.82 372,421.5 C374.2,422.18 377.5,423.5 379.5,423.5 C381.5,423.5 382.37,422.28 384,421.5 C385.63,420.72 387.47,418.72 389.3,418.8 C391.13,418.88 392.98,421.12 395,422 C397.02,422.88 399.57,424.13 401.4,424.1 C403.23,424.07 404.55,422.58 406,421.8 C407.45,421.02 408.6,419.53 410.1,419.4 C411.6,419.27 413.07,420.38 415,421 C416.93,421.62 419.87,422.85 421.7,423.1 C423.53,423.35 424.3,422.83 426,422.5 C427.7,422.17 429.9,420.93 431.9,421.1 C433.9,421.27 435.82,422.72 438,423.5 C440.18,424.28 443.17,425.97 445,425.8 C446.83,425.63 447.53,423.6 449,422.5 C450.47,421.4 451.97,419.37 453.8,419.2 C455.63,419.03 457.57,420.72 460,421.5 C462.43,422.28 466.48,423.72 468.4,423.9 C470.32,424.08 470.28,422.98 471.5,422.6 C472.72,422.22 474.28,421.43 475.7,421.6 C477.12,421.77 478.3,423.05 480,423.6 C481.7,424.15 484.07,424.65 485.9,424.9 C487.73,425.15 489.05,425.03 491,425.1 C492.95,425.17 495.53,425.47 497.6,425.3 C499.67,425.13 501.83,424.02 503.4,424.1 C504.97,424.18 505.78,425.13 507,425.8 C508.22,426.47 509.37,428.4 510.7,428.1 C512.03,427.8 513.28,425.48 515,424 C516.72,422.52 519.17,419.45 521,419.2 C522.83,418.95 524.3,421.48 526,422.5 C527.7,423.52 529.37,425.55 531.2,425.3 C533.03,425.05 535.07,422.4 537,421 C538.93,419.6 540.8,417.07 542.8,416.9 C544.8,416.73 546.8,418.98 549,420 C551.2,421.02 553.38,422.33 556,423 C558.62,423.67 562.37,423.62 564.7,424 C567.03,424.38 568.05,424.83 570,425.3 C571.95,425.77 574.57,427.1 576.4,426.8 C578.23,426.5 579.3,424.57 581,423.5 C582.7,422.43 584.93,420.62 586.6,420.4 C588.27,420.18 589.28,421.58 591,422.2 C592.72,422.82 595.32,423.55 596.9,424.1 C598.48,424.65 599.28,424.9 600.5,425.5 C601.72,426.1 603.58,427.33 604.2,427.7" stroke="#e3484d" stroke-width="4.0" fill="none" stroke-linejoin="round" stroke-linecap="round" />
<path d="M274.4,415.8 C275.83,416.75 280.08,419.75 283,421.5 C285.92,423.25 289.73,425.68 291.9,426.3 C294.07,426.92 294.25,426.02 296,425.2 C297.75,424.38 300.4,421.6 302.4,421.4 C304.4,421.2 306.1,423.18 308,424 C309.9,424.82 312.13,426.22 313.8,426.3 C315.47,426.38 316.37,425.42 318,424.5 C319.63,423.58 321.77,420.97 323.6,420.8 C325.43,420.63 326.98,422.67 329,423.5 C331.02,424.33 333.87,425.8 335.7,425.8 C337.53,425.8 338.37,424.57 340,423.5 C341.63,422.43 343.67,419.6 345.5,419.4 C347.33,419.2 348.98,421.27 351,422.3 C353.02,423.33 355.93,425.35 357.6,425.6 C359.27,425.85 359.55,424.83 361,423.8 C362.45,422.77 364.47,419.78 366.3,419.4 C368.13,419.02 369.8,420.82 372,421.5 C374.2,422.18 377.5,423.5 379.5,423.5 C381.5,423.5 382.37,422.28 384,421.5 C385.63,420.72 387.47,418.72 389.3,418.8 C391.13,418.88 392.98,421.12 395,422 C397.02,422.88 399.57,424.13 401.4,424.1 C403.23,424.07 404.55,422.58 406,421.8 C407.45,421.02 408.6,419.53 410.1,419.4 C411.6,419.27 413.07,420.38 415,421 C416.93,421.62 419.87,422.85 421.7,423.1 C423.53,423.35 424.3,422.83 426,422.5 C427.7,422.17 429.9,420.93 431.9,421.1 C433.9,421.27 435.82,422.72 438,423.5 C440.18,424.28 443.17,425.97 445,425.8 C446.83,425.63 447.53,423.6 449,422.5 C450.47,421.4 451.97,419.37 453.8,419.2 C455.63,419.03 457.57,420.72 460,421.5 C462.43,422.28 466.48,423.72 468.4,423.9 C470.32,424.08 470.28,422.98 471.5,422.6 C472.72,422.22 474.28,421.43 475.7,421.6 C477.12,421.77 478.3,423.05 480,423.6 C481.7,424.15 484.07,424.65 485.9,424.9 C487.73,425.15 489.05,425.03 491,425.1 C492.95,425.17 495.53,425.47 497.6,425.3 C499.67,425.13 501.83,424.02 503.4,424.1 C504.97,424.18 505.78,425.13 507,425.8 C508.22,426.47 509.37,428.4 510.7,428.1 C512.03,427.8 513.28,425.48 515,424 C516.72,422.52 519.17,419.45 521,419.2 C522.83,418.95 524.3,421.48 526,422.5 C527.7,423.52 529.37,425.55 531.2,425.3 C533.03,425.05 535.07,422.4 537,421 C538.93,419.6 540.8,417.07 542.8,416.9 C544.8,416.73 546.8,418.98 549,420 C551.2,421.02 553.38,422.33 556,423 C558.62,423.67 562.37,423.62 564.7,424 C567.03,424.38 568.05,424.83 570,425.3 C571.95,425.77 574.57,427.1 576.4,426.8 C578.23,426.5 579.3,424.57 581,423.5 C582.7,422.43 584.93,420.62 586.6,420.4 C588.27,420.18 589.28,421.58 591,422.2 C592.72,422.82 595.32,423.55 596.9,424.1 C598.48,424.65 599.28,424.9 600.5,425.5 C601.72,426.1 603.58,427.33 604.2,427.7" stroke="#fbe3e3" stroke-width="1.1" fill="none" stroke-linejoin="round" stroke-linecap="round" stroke-dasharray="0.9 1.5" stroke-linecap="butt"/>
<polyline points="296.33,392.4 318.36,389.4 340.4,389 362.43,387.8 384.46,389.1 406.49,389.7 428.52,388 450.56,386.9 472.59,388.3 494.62,392.7 516.65,396.9 538.68,391.3 560.72,396.1 582.75,390 604.78,393.2" stroke="#b57fe8" stroke-width="0.9" fill="none" stroke-linejoin="round" />
<polygon points="296.33,388.3 297.45,391.16 300.52,391.34 298.14,393.29 298.92,396.26 296.33,394.6 293.75,396.26 294.52,393.29 292.15,391.34 295.22,391.16" fill="#fff" stroke="#b57fe8" stroke-width="0.75" stroke-linejoin="miter"/>
<polygon points="318.36,385.3 319.48,388.16 322.55,388.34 320.17,390.29 320.95,393.26 318.36,391.6 315.78,393.26 316.56,390.29 314.18,388.34 317.25,388.16" fill="#fff" stroke="#b57fe8" stroke-width="0.75" stroke-linejoin="miter"/>
<polygon points="340.4,384.9 341.51,387.76 344.58,387.94 342.2,389.89 342.98,392.86 340.4,391.2 337.81,392.86 338.59,389.89 336.21,387.94 339.28,387.76" fill="#fff" stroke="#b57fe8" stroke-width="0.75" stroke-linejoin="miter"/>
<polygon points="362.43,383.7 363.54,386.56 366.61,386.74 364.24,388.69 365.01,391.66 362.43,390 359.84,391.66 360.62,388.69 358.24,386.74 361.31,386.56" fill="#fff" stroke="#b57fe8" stroke-width="0.75" stroke-linejoin="miter"/>
<polygon points="384.46,385 385.58,387.86 388.64,388.04 386.27,389.99 387.05,392.96 384.46,391.3 381.87,392.96 382.65,389.99 380.28,388.04 383.34,387.86" fill="#fff" stroke="#b57fe8" stroke-width="0.75" stroke-linejoin="miter"/>
<polygon points="406.49,385.6 407.61,388.46 410.68,388.64 408.3,390.59 409.08,393.56 406.49,391.9 403.91,393.56 404.68,390.59 402.31,388.64 405.38,388.46" fill="#fff" stroke="#b57fe8" stroke-width="0.75" stroke-linejoin="miter"/>
<polygon points="428.52,383.9 429.64,386.76 432.71,386.94 430.33,388.89 431.11,391.86 428.52,390.2 425.94,391.86 426.72,388.89 424.34,386.94 427.41,386.76" fill="#fff" stroke="#b57fe8" stroke-width="0.75" stroke-linejoin="miter"/>
<polygon points="450.56,382.8 451.67,385.66 454.74,385.84 452.36,387.79 453.14,390.76 450.56,389.1 447.97,390.76 448.75,387.79 446.37,385.84 449.44,385.66" fill="#fff" stroke="#b57fe8" stroke-width="0.75" stroke-linejoin="miter"/>
<polygon points="472.59,384.2 473.7,387.06 476.77,387.24 474.4,389.19 475.17,392.16 472.59,390.5 470,392.16 470.78,389.19 468.4,387.24 471.47,387.06" fill="#fff" stroke="#b57fe8" stroke-width="0.75" stroke-linejoin="miter"/>
<polygon points="494.62,388.6 495.74,391.46 498.8,391.64 496.43,393.59 497.21,396.56 494.62,394.9 492.03,396.56 492.81,393.59 490.44,391.64 493.5,391.46" fill="#fff" stroke="#b57fe8" stroke-width="0.75" stroke-linejoin="miter"/>
<polygon points="516.65,392.8 517.77,395.66 520.84,395.84 518.46,397.79 519.24,400.76 516.65,399.1 514.07,400.76 514.84,397.79 512.47,395.84 515.54,395.66" fill="#fff" stroke="#b57fe8" stroke-width="0.75" stroke-linejoin="miter"/>
<polygon points="538.68,387.2 539.8,390.06 542.87,390.24 540.49,392.19 541.27,395.16 538.68,393.5 536.1,395.16 536.88,392.19 534.5,390.24 537.57,390.06" fill="#fff" stroke="#b57fe8" stroke-width="0.75" stroke-linejoin="miter"/>
<polygon points="560.72,392 561.83,394.86 564.9,395.04 562.52,396.99 563.3,399.96 560.72,398.3 558.13,399.96 558.91,396.99 556.53,395.04 559.6,394.86" fill="#fff" stroke="#b57fe8" stroke-width="0.75" stroke-linejoin="miter"/>
<polygon points="582.75,385.9 583.86,388.76 586.93,388.94 584.56,390.89 585.33,393.86 582.75,392.2 580.16,393.86 580.94,390.89 578.56,388.94 581.63,388.76" fill="#fff" stroke="#b57fe8" stroke-width="0.75" stroke-linejoin="miter"/>
<polygon points="604.78,389.1 605.9,391.96 608.96,392.14 606.59,394.09 607.37,397.06 604.78,395.4 602.19,397.06 602.97,394.09 600.6,392.14 603.66,391.96" fill="#fff" stroke="#b57fe8" stroke-width="0.75" stroke-linejoin="miter"/>
<line x1="274.3" y1="369.6" x2="608.6" y2="369.6" stroke="#000" stroke-width="1.2" />
<line x1="274.3" y1="494.8" x2="608.6" y2="494.8" stroke="#000" stroke-width="1.2" />
<line x1="274.3" y1="369.6" x2="274.3" y2="494.8" stroke="#e3484d" stroke-width="1.2" />
<line x1="608.6" y1="369.6" x2="608.6" y2="494.8" stroke="#b57fe8" stroke-width="1.2" />
<line x1="648.4" y1="369.6" x2="648.4" y2="494.8" stroke="#5db95b" stroke-width="1.2" />
<line x1="274.3" y1="474.1" x2="270.4" y2="474.1" stroke="#e3484d" stroke-width="1.1" />
<line x1="274.3" y1="439.25" x2="270.4" y2="439.25" stroke="#e3484d" stroke-width="1.1" />
<line x1="274.3" y1="404.4" x2="270.4" y2="404.4" stroke="#e3484d" stroke-width="1.1" />
<line x1="274.3" y1="369.55" x2="270.4" y2="369.55" stroke="#e3484d" stroke-width="1.1" />
<line x1="274.3" y1="491.53" x2="272.1" y2="491.53" stroke="#e3484d" stroke-width="1.1" />
<line x1="274.3" y1="456.68" x2="272.1" y2="456.68" stroke="#e3484d" stroke-width="1.1" />
<line x1="274.3" y1="421.83" x2="272.1" y2="421.83" stroke="#e3484d" stroke-width="1.1" />
<line x1="274.3" y1="386.98" x2="272.1" y2="386.98" stroke="#e3484d" stroke-width="1.1" />
<line x1="608.6" y1="494.6" x2="612.5" y2="494.6" stroke="#b57fe8" stroke-width="1.1" />
<line x1="608.6" y1="463.35" x2="612.5" y2="463.35" stroke="#b57fe8" stroke-width="1.1" />
<line x1="608.6" y1="432.1" x2="612.5" y2="432.1" stroke="#b57fe8" stroke-width="1.1" />
<line x1="608.6" y1="400.85" x2="612.5" y2="400.85" stroke="#b57fe8" stroke-width="1.1" />
<line x1="608.6" y1="369.6" x2="612.5" y2="369.6" stroke="#b57fe8" stroke-width="1.1" />
<line x1="608.6" y1="478.98" x2="610.8" y2="478.98" stroke="#b57fe8" stroke-width="1.1" />
<line x1="608.6" y1="447.73" x2="610.8" y2="447.73" stroke="#b57fe8" stroke-width="1.1" />
<line x1="608.6" y1="416.48" x2="610.8" y2="416.48" stroke="#b57fe8" stroke-width="1.1" />
<line x1="608.6" y1="385.23" x2="610.8" y2="385.23" stroke="#b57fe8" stroke-width="1.1" />
<line x1="648.4" y1="494.6" x2="644.8" y2="494.6" stroke="#5db95b" stroke-width="1.1" />
<line x1="648.4" y1="473.8" x2="644.8" y2="473.8" stroke="#5db95b" stroke-width="1.1" />
<line x1="648.4" y1="453" x2="644.8" y2="453" stroke="#5db95b" stroke-width="1.1" />
<line x1="648.4" y1="432.2" x2="644.8" y2="432.2" stroke="#5db95b" stroke-width="1.1" />
<line x1="648.4" y1="411.4" x2="644.8" y2="411.4" stroke="#5db95b" stroke-width="1.1" />
<line x1="648.4" y1="390.6" x2="644.8" y2="390.6" stroke="#5db95b" stroke-width="1.1" />
<line x1="648.4" y1="369.8" x2="644.8" y2="369.8" stroke="#5db95b" stroke-width="1.1" />
<line x1="648.4" y1="484.2" x2="646.4" y2="484.2" stroke="#5db95b" stroke-width="1.1" />
<line x1="648.4" y1="463.4" x2="646.4" y2="463.4" stroke="#5db95b" stroke-width="1.1" />
<line x1="648.4" y1="442.6" x2="646.4" y2="442.6" stroke="#5db95b" stroke-width="1.1" />
<line x1="648.4" y1="421.8" x2="646.4" y2="421.8" stroke="#5db95b" stroke-width="1.1" />
<line x1="648.4" y1="401" x2="646.4" y2="401" stroke="#5db95b" stroke-width="1.1" />
<line x1="648.4" y1="380.2" x2="646.4" y2="380.2" stroke="#5db95b" stroke-width="1.1" />
<line x1="274.3" y1="494.8" x2="274.3" y2="498.7" stroke="#000" stroke-width="1.1" />
<line x1="320.2" y1="494.8" x2="320.2" y2="498.7" stroke="#000" stroke-width="1.1" />
<line x1="366.1" y1="494.8" x2="366.1" y2="498.7" stroke="#000" stroke-width="1.1" />
<line x1="412" y1="494.8" x2="412" y2="498.7" stroke="#000" stroke-width="1.1" />
<line x1="457.9" y1="494.8" x2="457.9" y2="498.7" stroke="#000" stroke-width="1.1" />
<line x1="503.8" y1="494.8" x2="503.8" y2="498.7" stroke="#000" stroke-width="1.1" />
<line x1="549.7" y1="494.8" x2="549.7" y2="498.7" stroke="#000" stroke-width="1.1" />
<line x1="595.6" y1="494.8" x2="595.6" y2="498.7" stroke="#000" stroke-width="1.1" />
<line x1="297.25" y1="494.8" x2="297.25" y2="497" stroke="#000" stroke-width="1.1" />
<line x1="343.15" y1="494.8" x2="343.15" y2="497" stroke="#000" stroke-width="1.1" />
<line x1="389.05" y1="494.8" x2="389.05" y2="497" stroke="#000" stroke-width="1.1" />
<line x1="434.95" y1="494.8" x2="434.95" y2="497" stroke="#000" stroke-width="1.1" />
<line x1="480.85" y1="494.8" x2="480.85" y2="497" stroke="#000" stroke-width="1.1" />
<line x1="526.75" y1="494.8" x2="526.75" y2="497" stroke="#000" stroke-width="1.1" />
<line x1="572.65" y1="494.8" x2="572.65" y2="497" stroke="#000" stroke-width="1.1" />
<text x="267.4" y="477.4" font-size="10" text-anchor="end" fill="#e3484d" font-weight="bold" >0</text>
<text x="267.4" y="442.55" font-size="10" text-anchor="end" fill="#e3484d" font-weight="bold" >500</text>
<text x="267.4" y="407.7" font-size="10" text-anchor="end" fill="#e3484d" font-weight="bold" >1000</text>
<text x="267.4" y="372.85" font-size="10" text-anchor="end" fill="#e3484d" font-weight="bold" >1500</text>
<text x="615.6" y="497.9" font-size="10" text-anchor="start" fill="#b57fe8" font-weight="bold" >0</text>
<text x="615.6" y="466.65" font-size="10" text-anchor="start" fill="#b57fe8" font-weight="bold" >20</text>
<text x="615.6" y="435.4" font-size="10" text-anchor="start" fill="#b57fe8" font-weight="bold" >40</text>
<text x="615.6" y="404.15" font-size="10" text-anchor="start" fill="#b57fe8" font-weight="bold" >60</text>
<text x="615.6" y="372.9" font-size="10" text-anchor="start" fill="#b57fe8" font-weight="bold" >80</text>
<text x="652.2" y="497.9" font-size="10" text-anchor="start" fill="#5db95b" font-weight="bold" >-0.1</text>
<text x="652.2" y="477.1" font-size="10" text-anchor="start" fill="#5db95b" font-weight="bold" >0.0</text>
<text x="652.2" y="456.3" font-size="10" text-anchor="start" fill="#5db95b" font-weight="bold" >0.1</text>
<text x="652.2" y="435.5" font-size="10" text-anchor="start" fill="#5db95b" font-weight="bold" >0.2</text>
<text x="652.2" y="414.7" font-size="10" text-anchor="start" fill="#5db95b" font-weight="bold" >0.3</text>
<text x="652.2" y="393.9" font-size="10" text-anchor="start" fill="#5db95b" font-weight="bold" >0.4</text>
<text x="652.2" y="373.1" font-size="10" text-anchor="start" fill="#5db95b" font-weight="bold" >0.5</text>
<text x="274.3" y="508.2" font-size="10" text-anchor="middle" fill="#000" font-weight="bold" >0</text>
<text x="320.2" y="508.2" font-size="10" text-anchor="middle" fill="#000" font-weight="bold" >50</text>
<text x="366.1" y="508.2" font-size="10" text-anchor="middle" fill="#000" font-weight="bold" >100</text>
<text x="412" y="508.2" font-size="10" text-anchor="middle" fill="#000" font-weight="bold" >150</text>
<text x="457.9" y="508.2" font-size="10" text-anchor="middle" fill="#000" font-weight="bold" >200</text>
<text x="503.8" y="508.2" font-size="10" text-anchor="middle" fill="#000" font-weight="bold" >250</text>
<text x="549.7" y="508.2" font-size="10" text-anchor="middle" fill="#000" font-weight="bold" >300</text>
<text x="595.6" y="508.2" font-size="10" text-anchor="middle" fill="#000" font-weight="bold" >350</text>
<text x="441.7" y="521.3" font-size="13.4" text-anchor="middle" fill="#000" font-weight="bold" >Time (h)</text>
<text x="240.8" y="432" font-size="13.4" text-anchor="middle" fill="#e3484d" font-weight="bold" transform="rotate(-90 240.8 432)" ><tspan font-style="italic">j</tspan> (mA cm<tspan font-size="8.5" dy="-4.5">-2</tspan><tspan dy="4.5" font-size="13.4">)</tspan></text>
<text x="634" y="432.5" font-size="13.4" text-anchor="middle" fill="#b57fe8" font-weight="bold" transform="rotate(90 634 432.5)" >FE<tspan font-size="8.3" dy="2.8">NO</tspan><tspan font-size="6" dy="1.3">2</tspan><tspan dy="-4.1" font-size="6">-</tspan><tspan dy="0" font-size="13.4"> (%)</tspan></text>
<text x="673.6" y="432.5" font-size="13.4" text-anchor="middle" fill="#5db95b" font-weight="bold" transform="rotate(90 673.6 432.5)" >C<tspan font-size="8.5" dy="2.8">Cr</tspan><tspan dy="-2.8" font-size="13.4"> (ppm)</tspan></text>
<text x="275.5" y="381.2" font-size="10" text-anchor="start" fill="#000" font-weight="bold" >1.99 V<tspan font-size="7" dy="2">RHE</tspan></text>
<text x="389.6" y="402.4" font-size="9.9" text-anchor="start" fill="#4a86c8" font-weight="bold" >Refresh electrolyte</text>
<text x="22.2" y="370.2" font-size="15.8" text-anchor="start" fill="#000" font-weight="bold" >g</text>
<text x="222" y="374.3" font-size="15.5" text-anchor="start" fill="#000" font-weight="bold" >h</text>
</svg></body></html>
